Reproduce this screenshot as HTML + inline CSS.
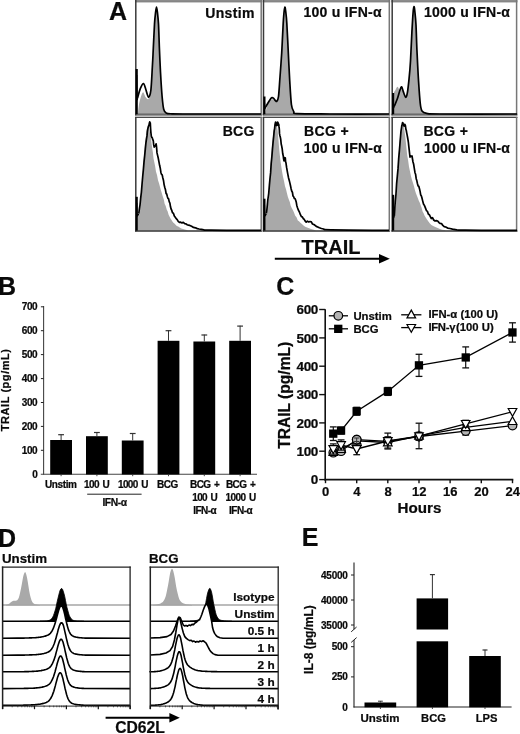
<!DOCTYPE html>
<html lang="en">
<head>
<meta charset="utf-8">
<title>Figure: TRAIL, CD62L and IL-8 responses</title>
<style>
html,body{margin:0;padding:0;background:#fff;}
body{width:520px;height:734px;overflow:hidden;}
svg{display:block;}
svg text{font-family:"Liberation Sans",Arial,Helvetica,sans-serif;font-weight:bold;fill:#0a0a0a;stroke:#0a0a0a;stroke-width:0.22px;}
</style>
</head>
<body>
<svg width="520" height="734" viewBox="0 0 520 734">
<rect x="0" y="0" width="520" height="734" fill="#fff"/>
<g id="panelA">
<text x="109" y="20" font-size="25">A</text>
<path d="M138 113 C138.2 111.2 138.7 105.4 139.5 102 C140.3 98.6 141.8 93.2 142.8 92.4 C143.8 91.6 144.6 95.9 145.5 97 C146.4 98.1 147.6 100 148.5 99 C149.4 98 150.2 96.7 150.9 91 C151.6 85.3 152.1 72 152.5 65 C152.9 58 153 55.7 153.3 49 C153.6 42.3 154.1 31 154.5 25 C154.9 19 155.3 15.8 155.6 13 C155.9 10.2 156.2 8 156.5 8 C156.8 8 157.1 10.2 157.4 13 C157.7 15.8 158.2 19 158.5 25 C158.8 31 159.1 41 159.4 49 C159.7 57 160.1 65 160.5 73 C160.9 81 161.6 90.8 162.1 97 C162.6 103.2 163 107.2 163.7 110 C164.4 112.8 165.8 112.9 166.2 113.5 L166.2 114.2 L138 114.2 Z" fill="#a9a9a9"/>
<rect x="135" y="0" width="127" height="1.7" fill="#8c8c8c"/>
<line x1="135" y1="1.9" x2="262" y2="1.9" stroke="#5a5a5a" stroke-width="0.8"/>
<rect x="135" y="114.7" width="127" height="1.9" fill="#999"/>
<line x1="135" y1="114.2" x2="262" y2="114.2" stroke="#3c3c3c" stroke-width="1.0"/>
<line x1="135.8" y1="0" x2="135.8" y2="115.2" stroke="#3a3a3a" stroke-width="1.5"/>
<line x1="261.2" y1="0" x2="261.2" y2="115.2" stroke="#777" stroke-width="1.5"/>
<path d="M137.5 98 C137.9 96.6 139.5 90.6 140.4 88.4 C141.3 86.2 142.8 83.4 143.6 83.6 C144.4 83.8 145.3 87.9 146 90 C146.7 92.1 147.8 97.3 148.5 97.3 C149.2 97.3 150.3 95 150.9 90 C151.5 85 152.1 70.6 152.5 64.3 C152.9 58 153 54.2 153.3 48.2 C153.6 42.2 154.2 29.5 154.5 24.1 C154.8 18.7 155.3 14.6 155.6 12 C155.9 9.4 156.2 7 156.5 7 C156.8 7 157.1 9.4 157.4 12 C157.7 14.6 158.2 18.7 158.5 24.1 C158.8 29.5 159.1 41 159.4 48.2 C159.7 55.4 160.1 65.1 160.5 72.3 C160.9 79.5 161.6 91 162.1 96.5 C162.6 102 163.1 106.8 163.7 109.3 C164.3 111.8 165 112.3 166.2 113 C167.4 113.7 166.3 113.6 172 113.8 C177.7 114 190.7 114 204 114 C217.3 114 252.4 114 261 114" fill="none" stroke="#000" stroke-width="1.7" stroke-linejoin="round"/>
<line x1="136.7" y1="69" x2="136.7" y2="114.2" stroke="#000" stroke-width="2.2"/>
<path d="M136.7 75 L137.1 100 L137.5 98" fill="none" stroke="#000" stroke-width="1.4"/>
<text x="254.8" y="18.4" font-size="14" text-anchor="end" letter-spacing="0.35">Unstim</text>
<path d="M265.6 113 C265.8 112.2 266.1 109.5 266.5 108 C266.9 106.5 267.3 105.3 268 104 C268.7 102.7 269.6 100.8 270.5 100 C271.4 99.2 272.6 99.2 273.7 99.5 C274.8 99.8 276.1 102.4 276.9 102 C277.7 101.6 278 101 278.5 97 C279 93 279.5 85.2 280 78 C280.5 70.8 281.2 62.3 281.7 54 C282.2 45.7 282.6 34.8 283 28 C283.4 21.2 283.7 16.8 284 13.5 C284.3 10.2 284.6 8.1 284.9 8 C285.2 7.9 285.5 10.3 285.8 13 C286.1 15.7 286.4 18 286.8 24 C287.2 30 287.6 39.5 288.1 49 C288.6 58.5 289.1 71.7 289.7 81 C290.2 90.3 290.7 99.8 291.4 105 C292.1 110.2 292.9 110.5 293.8 112 C294.7 113.5 296.5 113.5 297 113.8 L297 114.2 L265.6 114.2 Z" fill="#a9a9a9"/>
<rect x="262.7" y="0" width="127.4" height="1.7" fill="#8c8c8c"/>
<line x1="262.7" y1="1.9" x2="390.1" y2="1.9" stroke="#5a5a5a" stroke-width="0.8"/>
<rect x="262.7" y="114.7" width="127.4" height="1.9" fill="#999"/>
<line x1="262.7" y1="114.2" x2="390.1" y2="114.2" stroke="#3c3c3c" stroke-width="1.0"/>
<line x1="263.5" y1="0" x2="263.5" y2="115.2" stroke="#3a3a3a" stroke-width="1.5"/>
<line x1="389.3" y1="0" x2="389.3" y2="115.2" stroke="#777" stroke-width="1.5"/>
<path d="M265.6 107 C266 106.4 267.3 104.2 268 103 C268.7 101.8 269.9 99.7 270.5 98.9 C271.1 98.1 271.5 97.8 272 97.7 C272.5 97.6 273.2 98 273.7 98.4 C274.2 98.8 274.8 100.1 275.3 100.5 C275.8 100.9 276.4 101.9 276.9 101.3 C277.4 100.7 278 100.1 278.5 96.5 C279 92.9 279.5 83.5 280 77 C280.5 70.5 281.2 60.5 281.7 53 C282.1 45.5 282.7 33.4 283 27.3 C283.3 21.2 283.7 15.5 284 12.5 C284.3 9.5 284.6 7.1 284.9 7 C285.2 6.9 285.5 9.6 285.8 12 C286.1 14.4 286.5 17.6 286.8 23 C287.1 28.4 287.7 39.6 288.1 48.2 C288.5 56.8 289.2 72 289.7 80.4 C290.2 88.8 290.8 99.8 291.4 104.5 C292 109.2 293 110.3 293.8 111.7 C294.6 113.1 291.6 113.3 297 113.6 C302.4 113.9 316.2 113.9 330 114 C343.8 114.1 380.1 114 389 114" fill="none" stroke="#000" stroke-width="1.7" stroke-linejoin="round"/>
<line x1="264.4" y1="96.5" x2="264.4" y2="114.2" stroke="#000" stroke-width="2.2"/>
<path d="M264.4 102.5 L264.8 109 L265.6 107" fill="none" stroke="#000" stroke-width="1.4"/>
<text x="303.5" y="17.2" font-size="14" letter-spacing="0.25">100 u IFN-α</text>
<path d="M393.2 113 C393.3 110 393.2 98.8 393.6 95 C394 91.2 394.8 91.4 395.5 90 C396.2 88.6 396.9 86.8 397.6 86.8 C398.3 86.8 398.8 89.8 399.5 90 C400.2 90.2 401.1 87.7 401.7 88 C402.3 88.3 402.6 90.3 403.3 92 C404 93.7 405 97.7 405.7 98 C406.4 98.3 406.8 96.8 407.3 94 C407.8 91.2 408.4 86.3 408.9 81 C409.4 75.7 410 70 410.5 62 C411 54 411.5 41.1 411.9 33 C412.3 24.9 412.8 17.7 413.1 13.5 C413.5 9.3 413.7 7.7 414 7.6 C414.3 7.5 414.6 9.9 414.9 13 C415.2 16.1 415.6 19.5 416 26 C416.4 32.5 416.6 42.8 417 52 C417.4 61.2 418 72.3 418.5 81 C419 89.7 419.6 98.9 420.2 104 C420.8 109.1 420.9 109.9 422 111.5 C423.1 113.1 425.8 113.2 426.6 113.6 L426.6 114.2 L393.2 114.2 Z" fill="#a9a9a9"/>
<rect x="391.4" y="0" width="126" height="1.7" fill="#8c8c8c"/>
<line x1="391.4" y1="1.9" x2="517.4" y2="1.9" stroke="#5a5a5a" stroke-width="0.8"/>
<rect x="391.4" y="114.7" width="126" height="1.9" fill="#999"/>
<line x1="391.4" y1="114.2" x2="517.4" y2="114.2" stroke="#3c3c3c" stroke-width="1.0"/>
<line x1="392.2" y1="0" x2="392.2" y2="115.2" stroke="#3a3a3a" stroke-width="1.5"/>
<line x1="516.6" y1="0" x2="516.6" y2="115.2" stroke="#777" stroke-width="1.5"/>
<path d="M394.4 106 C394.9 104.8 396.8 100.4 397.6 98 C398.4 95.6 399.4 91.7 400 90 C400.6 88.3 401.2 86.6 401.7 86.8 C402.2 87 402.7 90 403.3 91.6 C403.9 93.2 405.1 97.1 405.7 97.3 C406.3 97.5 406.8 95.7 407.3 93.2 C407.8 90.7 408.4 85.2 408.9 80.4 C409.4 75.6 410.1 68.3 410.5 61 C410.9 53.7 411.5 39.3 411.9 32 C412.3 24.7 412.8 16.3 413.1 12.5 C413.4 8.7 413.7 6.7 414 6.6 C414.3 6.5 414.6 9.2 414.9 12 C415.2 14.8 415.7 19.1 416 25 C416.3 30.9 416.6 43.1 417 51.4 C417.4 59.7 418 72.7 418.5 80.4 C419 88.1 419.7 98.4 420.2 103 C420.7 107.6 421 109.5 422 111 C423 112.5 423.9 112.8 426.6 113.3 C429.3 113.8 426.4 113.9 440 114 C453.6 114.1 505.4 114 517 114" fill="none" stroke="#000" stroke-width="1.7" stroke-linejoin="round"/>
<line x1="393.1" y1="93" x2="393.1" y2="114.2" stroke="#000" stroke-width="2.2"/>
<path d="M393.1 99 L393.5 108 L394.4 106" fill="none" stroke="#000" stroke-width="1.4"/>
<text x="423.9" y="17.2" font-size="14" letter-spacing="0.25">1000 u IFN-α</text>
<path d="M137.4 230.6 L137.4 226.2 L137.5 220 L137.7 215 L138.2 214 L139 215.6 L139.8 212.4 L140.7 201.4 L141.8 186.8 L142.7 173.3 L143.4 163.4 L144 155.8 L144.6 148.8 L145.2 141.3 L145.9 136.4 L146.5 131 L147.1 127.7 L147.8 125.3 L148.4 126.3 L149 127.8 L149.7 131.5 L150.3 135.2 L151 138.6 L151.6 143.8 L152.3 148.7 L152.9 152.6 L153.5 158.2 L154.2 161.8 L155.1 166.1 L156 171.7 L157 175.1 L158 180.2 L159 183.3 L160 187.1 L160.9 190.2 L161.9 193.6 L162.8 196.4 L163.8 199.4 L164.7 203.9 L165.7 206 L166.7 209.5 L167.6 211.3 L168.6 214.7 L169.6 216.7 L170.5 218.4 L171.5 220.1 L172.4 221.4 L173.4 222.8 L174.4 223.4 L175.6 224.7 L176.8 225.9 L178.2 226.5 L179.7 227.6 L181.3 228.4 L183 229 L184.8 229.6 L186.7 230.1 L188 230.4 L188 230.6 L137.4 230.6 Z" fill="#a9a9a9"/>
<line x1="135" y1="117.5" x2="262" y2="117.5" stroke="#4a4a4a" stroke-width="1.1"/>
<line x1="135" y1="231.1" x2="262" y2="231.1" stroke="#333" stroke-width="1.5"/>
<line x1="135.8" y1="116.9" x2="135.8" y2="231.6" stroke="#3a3a3a" stroke-width="1.5"/>
<line x1="261.2" y1="116.9" x2="261.2" y2="231.6" stroke="#777" stroke-width="1.5"/>
<path d="M138.8 213.6 L139.3 209.5 L140 205.1 L140.7 197.8 L141.4 192.1 L142 184.5 L142.7 176.5 L143.3 170.3 L144 162.1 L144.6 156.3 L145.3 149.1 L145.9 143.2 L146.5 138.8 L147 135.9 L147.4 131.3 L147.8 128.9 L148.3 127 L148.9 125.3 L149.4 122.9 L149.7 121.9 L150 123.4 L150.3 123 L150.6 128.7 L150.9 132.6 L151.3 136.2 L151.8 137.4 L152.3 137.9 L152.8 139.7 L153.3 140.8 L153.7 144.9 L154.2 147.1 L154.8 146.2 L155.5 145.2 L156.1 143.8 L156.4 145.6 L156.7 148.8 L157 152.9 L157.6 155.4 L158.3 158.3 L159 162.2 L159.6 165.3 L160.3 168.4 L160.9 172.4 L161.5 174.3 L162.2 174.9 L162.8 177.7 L163.5 180.5 L164.1 184.6 L164.8 187.5 L165.4 189.4 L166.1 193.5 L166.7 194 L167.3 196.4 L168 198.5 L168.6 198.8 L169.2 201.7 L169.9 203.1 L170.5 206.8 L171.1 209 L171.8 210.4 L172.5 212.8 L173.4 213.3 L174.3 215.9 L175.3 217.2 L176.2 218.6 L177.2 219.6 L178.2 221.4 L179.4 222.4 L180.7 222.2 L182 222.9 L183.3 222.4 L184.7 223.6 L186 223.9 L187.2 224.8 L188.4 225.2 L189.8 225.4 L191.6 226.3 L193.5 227.4 L195.5 227.8 L197.3 228.6 L199.1 229 L201.3 229.4 L202.8 229.7 L204.6 230.1 L211 230.2 L226.5 230.3 L246.5 230.4 L261 230.4" fill="none" stroke="#000" stroke-width="1.7" stroke-linejoin="round"/>
<line x1="136.7" y1="196.8" x2="136.7" y2="230.6" stroke="#000" stroke-width="2.2"/>
<path d="M136.7 202.8 L137.1 216 L138.8 214" fill="none" stroke="#000" stroke-width="1.4"/>
<text x="254.8" y="136.1" font-size="14" text-anchor="end" letter-spacing="0.35">BCG</text>
<path d="M265.1 230.6 L265.1 226 L265.1 219.5 L265.4 215.7 L266 213 L266.8 212.3 L267.7 208.5 L268.7 196 L269.7 180.7 L270.6 165.6 L271.3 156.6 L271.9 147.7 L272.5 141.1 L273.1 135.6 L273.8 130.4 L274.4 127.2 L275.1 124.7 L275.7 122.8 L276.3 124.2 L276.8 125.3 L277.2 127.5 L277.7 131 L278.2 136.9 L278.7 142.7 L279.2 149.3 L279.8 154.9 L280.5 161 L281.2 166.1 L282.1 171.7 L283 176.8 L284 181.1 L285 186.3 L286 189.2 L287 193.4 L287.9 197 L288.9 199.8 L289.8 202 L290.7 205.7 L291.7 207.9 L292.7 209.8 L293.9 212.3 L295.2 215.7 L296.5 217.3 L297.8 220.4 L299 221.3 L300.4 222.7 L301.9 224 L303.5 225.5 L305.2 226.8 L307.1 227.5 L309.1 228.3 L311 229 L312.9 229.6 L314.7 230.1 L316 230.4 L316 230.6 L265.1 230.6 Z" fill="#a9a9a9"/>
<line x1="262.7" y1="117.5" x2="390.1" y2="117.5" stroke="#4a4a4a" stroke-width="1.1"/>
<line x1="262.7" y1="231.1" x2="390.1" y2="231.1" stroke="#333" stroke-width="1.5"/>
<line x1="263.5" y1="116.9" x2="263.5" y2="231.6" stroke="#3a3a3a" stroke-width="1.5"/>
<line x1="389.3" y1="116.9" x2="389.3" y2="231.6" stroke="#777" stroke-width="1.5"/>
<path d="M266.3 213.4 L266.9 209.6 L267.8 200 L268.7 193.5 L269.4 185.1 L270 178.5 L270.6 172.9 L271.2 163.4 L271.9 156.4 L272.5 148.6 L273.1 142 L273.7 136.2 L274.2 130.7 L274.6 128.6 L275 124.6 L275.3 123.3 L275.6 122 L275.8 122.4 L276 123 L276.3 125.1 L276.5 125.3 L276.8 125.5 L277.1 125 L277.3 125.1 L277.6 122 L277.9 123.1 L278.2 122.9 L278.5 124.2 L278.8 124.5 L279 126.7 L279.2 128 L279.4 130.4 L279.5 133.4 L279.8 135.2 L280.2 136.7 L280.7 139.2 L281.2 144 L281.7 146.1 L282.2 148.8 L282.7 153.5 L283.2 155.7 L283.6 158.8 L284 160.8 L284.4 159 L284.7 157.6 L285 158.1 L285.3 157.9 L285.6 161.8 L286 163.1 L286.6 167.4 L287.2 170.8 L287.9 174.7 L288.5 177.7 L289.2 180.3 L289.8 182.6 L290.4 185.3 L291.1 188.7 L291.7 191 L292.4 192.2 L293 196 L293.7 196.8 L294.3 198.5 L295 198.5 L295.6 200 L296.2 201.9 L296.8 205.4 L297.5 207.8 L298.4 210.2 L299.4 212 L300.4 214.7 L301.4 216.6 L302.3 216.8 L303.3 218.7 L304.2 219.3 L305.2 221.1 L306.2 222.2 L307.4 221.1 L308.7 222 L310 221.5 L311.3 221.9 L312.5 224 L313.8 224.5 L315 225.3 L316.3 226.4 L317.7 227 L319.4 227.8 L321.4 228.5 L323.5 229 L324 229.4 L324.7 229.7 L331 229.9 L348.7 230.1 L372.1 230.3 L389 230.4" fill="none" stroke="#000" stroke-width="1.7" stroke-linejoin="round"/>
<line x1="264.4" y1="198.7" x2="264.4" y2="230.6" stroke="#000" stroke-width="2.2"/>
<path d="M264.4 204.7 L264.8 216 L266.3 214" fill="none" stroke="#000" stroke-width="1.4"/>
<text x="304" y="136.3" font-size="14" letter-spacing="0.35">BCG +</text>
<text x="303.8" y="153.2" font-size="14" letter-spacing="0.25">100 u IFN-α</text>
<path d="M393.8 230.6 L393.8 227.3 L393.9 222.5 L394.1 216.4 L394.5 213 L395.1 208.5 L395.7 202.5 L396.3 192.9 L397 182.1 L397.6 171.7 L398.2 161.2 L398.9 151.5 L399.5 142.3 L400.2 135.5 L400.8 130.8 L401.5 126.5 L402.1 124.7 L402.8 124.8 L403.4 125.4 L404 127.6 L404.7 132.7 L405.3 137.1 L405.9 142.6 L406.5 148.6 L407.2 155.2 L408.1 160.3 L409 166.8 L410 171.6 L411 176.2 L412 180 L413 183 L414 186.2 L414.9 190 L415.9 193.3 L416.9 195.8 L417.8 198.1 L418.8 200.8 L419.8 202.7 L420.7 205.3 L421.7 208.1 L422.6 211.4 L423.5 213.1 L424.5 215.5 L425.7 217.6 L427 219.5 L428.4 221.6 L429.9 223.4 L431.4 225 L433.2 225.9 L435.3 227.1 L437.7 228.1 L440 229 L442.3 229.7 L444.5 230.1 L446 230.4 L446 230.6 L393.8 230.6 Z" fill="#a9a9a9"/>
<line x1="391.4" y1="117.5" x2="517.4" y2="117.5" stroke="#4a4a4a" stroke-width="1.1"/>
<line x1="391.4" y1="231.1" x2="517.4" y2="231.1" stroke="#333" stroke-width="1.5"/>
<line x1="392.2" y1="116.9" x2="392.2" y2="231.6" stroke="#3a3a3a" stroke-width="1.5"/>
<line x1="516.6" y1="116.9" x2="516.6" y2="231.6" stroke="#777" stroke-width="1.5"/>
<path d="M394.3 215.9 L394.7 209.8 L395.3 200.9 L396 193.8 L396.6 183.7 L397.3 176.4 L398 168.9 L398.7 158.4 L399.4 150.7 L400 143.3 L400.6 135.7 L401 131.2 L401.5 127.9 L401.9 124.9 L402.2 124.3 L402.6 122.5 L403 123.2 L403.4 124.2 L403.8 125.8 L404.2 126.1 L404.6 124.3 L405 124.6 L405.4 125.6 L405.9 129.3 L406.3 130.5 L406.7 132.8 L407.2 135.3 L407.6 137.5 L408 139.8 L408.4 142.5 L408.8 146.3 L409.2 149.8 L409.6 153.5 L410 157.1 L410.5 155.9 L411 156.4 L411.5 156.2 L412 155.9 L412.5 159 L413 162 L413.6 164 L414.3 168.3 L415 172.7 L415.6 174.3 L416.2 178.7 L416.8 180.6 L417.5 183.7 L418.1 186 L418.8 186.3 L419.4 188.4 L420.1 191.4 L420.7 194.9 L421.3 195.7 L421.9 197.7 L422.6 200.6 L423.5 204 L424.5 205.6 L425.5 208.1 L426.5 210.7 L427.4 211.4 L428.4 214.2 L429.3 214.6 L430.3 216.7 L431.3 218.5 L432.5 217.7 L433.7 220 L435 221 L436.3 220.6 L437.7 221 L439 222.6 L440.2 223.5 L441.5 223.6 L442.8 225.4 L444.2 226.6 L445.7 227 L447.6 228.1 L449.9 228.5 L452.5 229.1 L455.3 229.6 L456.8 229.9 L458.6 230.1 L465 230.2 L481.1 230.3 L502 230.4 L517 230.4" fill="none" stroke="#000" stroke-width="1.7" stroke-linejoin="round"/>
<line x1="393.1" y1="194.8" x2="393.1" y2="230.6" stroke="#000" stroke-width="2.2"/>
<path d="M393.1 200.8 L393.5 218 L394.3 216" fill="none" stroke="#000" stroke-width="1.4"/>
<text x="423.4" y="136.4" font-size="14" letter-spacing="0.35">BCG +</text>
<text x="423.9" y="153.4" font-size="14" letter-spacing="0.25">1000 u IFN-α</text>
<text x="331" y="253.8" font-size="20" text-anchor="middle">TRAIL</text>
<line x1="274.8" y1="258.7" x2="381" y2="258.7" stroke="#000" stroke-width="2"/>
<path d="M379 254 L389.8 258.7 L379 263.4Z" fill="#000"/>
</g>
<g id="panelB">
<text x="-1.9" y="295.2" font-size="25">B</text>
<line x1="43.6" y1="306" x2="43.6" y2="474.7" stroke="#444" stroke-width="1.1"/>
<line x1="40.8" y1="474.2" x2="257" y2="474.2" stroke="#444" stroke-width="1.1"/>
<text x="37.3" y="477.6" font-size="10" text-anchor="end" letter-spacing="-0.4">0</text>
<line x1="40.9" y1="450.3" x2="43.6" y2="450.3" stroke="#222" stroke-width="1.0"/>
<text x="37.3" y="453.7" font-size="10" text-anchor="end" letter-spacing="-0.4">100</text>
<line x1="40.9" y1="426.4" x2="43.6" y2="426.4" stroke="#222" stroke-width="1.0"/>
<text x="37.3" y="429.8" font-size="10" text-anchor="end" letter-spacing="-0.4">200</text>
<line x1="40.9" y1="402.5" x2="43.6" y2="402.5" stroke="#222" stroke-width="1.0"/>
<text x="37.3" y="405.9" font-size="10" text-anchor="end" letter-spacing="-0.4">300</text>
<line x1="40.9" y1="378.6" x2="43.6" y2="378.6" stroke="#222" stroke-width="1.0"/>
<text x="37.3" y="382" font-size="10" text-anchor="end" letter-spacing="-0.4">400</text>
<line x1="40.9" y1="354.6" x2="43.6" y2="354.6" stroke="#222" stroke-width="1.0"/>
<text x="37.3" y="358" font-size="10" text-anchor="end" letter-spacing="-0.4">500</text>
<line x1="40.9" y1="330.7" x2="43.6" y2="330.7" stroke="#222" stroke-width="1.0"/>
<text x="37.3" y="334.1" font-size="10" text-anchor="end" letter-spacing="-0.4">600</text>
<line x1="40.9" y1="306.8" x2="43.6" y2="306.8" stroke="#222" stroke-width="1.0"/>
<text x="37.3" y="310.2" font-size="10" text-anchor="end" letter-spacing="-0.4">700</text>
<text transform="translate(9.4 389.8) rotate(-90)" font-size="11" text-anchor="middle" letter-spacing="0.55">TRAIL (pg/mL)</text>
<rect x="50.2" y="440" width="21.8" height="34.5" fill="#000"/>
<line x1="61.1" y1="440" x2="61.1" y2="434.3" stroke="#333" stroke-width="1.0"/>
<line x1="58.2" y1="434.7" x2="64" y2="434.7" stroke="#333" stroke-width="1.2"/>
<line x1="61.1" y1="474.2" x2="61.1" y2="476.2" stroke="#333" stroke-width="0.9"/>
<rect x="86" y="436.2" width="21.8" height="38.3" fill="#000"/>
<line x1="96.9" y1="436.2" x2="96.9" y2="432.1" stroke="#333" stroke-width="1.0"/>
<line x1="94" y1="432.5" x2="99.8" y2="432.5" stroke="#333" stroke-width="1.2"/>
<line x1="96.9" y1="474.2" x2="96.9" y2="476.2" stroke="#333" stroke-width="0.9"/>
<rect x="121.8" y="440.5" width="21.8" height="34" fill="#000"/>
<line x1="132.7" y1="440.5" x2="132.7" y2="433.1" stroke="#333" stroke-width="1.0"/>
<line x1="129.8" y1="433.5" x2="135.6" y2="433.5" stroke="#333" stroke-width="1.2"/>
<line x1="132.7" y1="474.2" x2="132.7" y2="476.2" stroke="#333" stroke-width="0.9"/>
<rect x="157.6" y="340.8" width="21.8" height="133.7" fill="#000"/>
<line x1="168.5" y1="340.8" x2="168.5" y2="330.3" stroke="#333" stroke-width="1.0"/>
<line x1="165.6" y1="330.7" x2="171.4" y2="330.7" stroke="#333" stroke-width="1.2"/>
<line x1="168.5" y1="474.2" x2="168.5" y2="476.2" stroke="#333" stroke-width="0.9"/>
<rect x="193.4" y="341.5" width="21.8" height="133" fill="#000"/>
<line x1="204.3" y1="341.5" x2="204.3" y2="334.6" stroke="#333" stroke-width="1.0"/>
<line x1="201.4" y1="335" x2="207.2" y2="335" stroke="#333" stroke-width="1.2"/>
<line x1="204.3" y1="474.2" x2="204.3" y2="476.2" stroke="#333" stroke-width="0.9"/>
<rect x="229.2" y="340.8" width="21.8" height="133.7" fill="#000"/>
<line x1="240.1" y1="340.8" x2="240.1" y2="325.7" stroke="#333" stroke-width="1.0"/>
<line x1="237.2" y1="326.1" x2="243" y2="326.1" stroke="#333" stroke-width="1.2"/>
<line x1="240.1" y1="474.2" x2="240.1" y2="476.2" stroke="#333" stroke-width="0.9"/>
<text x="60.8" y="487.7" font-size="10" text-anchor="middle" letter-spacing="-0.4">Unstim</text>
<text x="96.6" y="487.7" font-size="10" text-anchor="middle" letter-spacing="-0.55" word-spacing="1.3">100 U</text>
<text x="132.9" y="487.9" font-size="10" text-anchor="middle" letter-spacing="-0.6" word-spacing="1.3">1000 U</text>
<text x="167.4" y="488.3" font-size="10" text-anchor="middle" letter-spacing="-0.4">BCG</text>
<text x="204.7" y="488.3" font-size="10" text-anchor="middle" letter-spacing="-0.55" word-spacing="1.3">BCG +</text>
<text x="204.7" y="500.9" font-size="10" text-anchor="middle" letter-spacing="-0.6" word-spacing="1.3">100 U</text>
<text x="204.7" y="513.5" font-size="10" text-anchor="middle" letter-spacing="-0.5">IFN-α</text>
<text x="240.6" y="488.3" font-size="10" text-anchor="middle" letter-spacing="-0.55" word-spacing="1.3">BCG +</text>
<text x="240.6" y="500.9" font-size="10" text-anchor="middle" letter-spacing="-0.6" word-spacing="1.3">1000 U</text>
<text x="240.6" y="513.5" font-size="10" text-anchor="middle" letter-spacing="-0.5">IFN-α</text>
<line x1="87.2" y1="494.2" x2="141.6" y2="494.2" stroke="#222" stroke-width="1.0"/>
<text x="114.6" y="505.9" font-size="10.3" text-anchor="middle" letter-spacing="-0.4">IFN-α</text>
</g>
<g id="panelC">
<text x="276.2" y="295.2" font-size="25">C</text>
<line x1="325.2" y1="309.3" x2="325.2" y2="480.4" stroke="#111" stroke-width="1.6"/>
<line x1="324.4" y1="479.6" x2="513.3" y2="479.6" stroke="#111" stroke-width="1.6"/>
<line x1="319.2" y1="479.6" x2="325.2" y2="479.6" stroke="#111" stroke-width="1.4"/>
<text x="317.8" y="484.2" font-size="13.5" text-anchor="end" letter-spacing="-0.45">0</text>
<line x1="319.2" y1="451.2" x2="325.2" y2="451.2" stroke="#111" stroke-width="1.4"/>
<text x="317.8" y="455.9" font-size="13.5" text-anchor="end" letter-spacing="-0.45">100</text>
<line x1="319.2" y1="422.9" x2="325.2" y2="422.9" stroke="#111" stroke-width="1.4"/>
<text x="317.8" y="427.5" font-size="13.5" text-anchor="end" letter-spacing="-0.45">200</text>
<line x1="319.2" y1="394.6" x2="325.2" y2="394.6" stroke="#111" stroke-width="1.4"/>
<text x="317.8" y="399.2" font-size="13.5" text-anchor="end" letter-spacing="-0.45">300</text>
<line x1="319.2" y1="366.2" x2="325.2" y2="366.2" stroke="#111" stroke-width="1.4"/>
<text x="317.8" y="370.8" font-size="13.5" text-anchor="end" letter-spacing="-0.45">400</text>
<line x1="319.2" y1="337.9" x2="325.2" y2="337.9" stroke="#111" stroke-width="1.4"/>
<text x="317.8" y="342.5" font-size="13.5" text-anchor="end" letter-spacing="-0.45">500</text>
<line x1="319.2" y1="309.5" x2="325.2" y2="309.5" stroke="#111" stroke-width="1.4"/>
<text x="317.8" y="314.1" font-size="13.5" text-anchor="end" letter-spacing="-0.45">600</text>
<line x1="325.5" y1="479.6" x2="325.5" y2="483.2" stroke="#111" stroke-width="1.4"/>
<text x="325.5" y="495.6" font-size="13" text-anchor="middle">0</text>
<line x1="356.7" y1="479.6" x2="356.7" y2="483.2" stroke="#111" stroke-width="1.4"/>
<text x="356.9" y="495.6" font-size="13" text-anchor="middle">4</text>
<line x1="387.8" y1="479.6" x2="387.8" y2="483.2" stroke="#111" stroke-width="1.4"/>
<text x="388" y="495.6" font-size="13" text-anchor="middle">8</text>
<line x1="419" y1="479.6" x2="419" y2="483.2" stroke="#111" stroke-width="1.4"/>
<text x="419.2" y="495.6" font-size="13" text-anchor="middle">12</text>
<line x1="450.1" y1="479.6" x2="450.1" y2="483.2" stroke="#111" stroke-width="1.4"/>
<text x="450.3" y="495.6" font-size="13" text-anchor="middle">16</text>
<line x1="481.3" y1="479.6" x2="481.3" y2="483.2" stroke="#111" stroke-width="1.4"/>
<text x="481.5" y="495.6" font-size="13" text-anchor="middle">20</text>
<line x1="512.5" y1="479.6" x2="512.5" y2="483.2" stroke="#111" stroke-width="1.4"/>
<text x="512.7" y="495.6" font-size="13" text-anchor="middle">24</text>
<text x="419.4" y="512.6" font-size="15.2" text-anchor="middle">Hours</text>
<text transform="translate(289.5 395.3) rotate(-90)" font-size="15.6" text-anchor="middle">TRAIL (pg/mL)</text>
<path d="M333.3 452.7 L341.1 451.2 L356.7 439.6 L387.8 441.3 L419 436.5 L465.7 431.1 L512.5 425.5" fill="none" stroke="#000" stroke-width="1.3"/>
<line x1="333.3" y1="450.4" x2="333.3" y2="454.9" stroke="#111" stroke-width="1.2"/>
<line x1="329.9" y1="450.4" x2="336.7" y2="450.4" stroke="#111" stroke-width="1.3"/>
<line x1="329.9" y1="454.9" x2="336.7" y2="454.9" stroke="#111" stroke-width="1.3"/>
<line x1="341.1" y1="449" x2="341.1" y2="453.5" stroke="#111" stroke-width="1.2"/>
<line x1="337.7" y1="449" x2="344.5" y2="449" stroke="#111" stroke-width="1.3"/>
<line x1="337.7" y1="453.5" x2="344.5" y2="453.5" stroke="#111" stroke-width="1.3"/>
<line x1="356.7" y1="436.8" x2="356.7" y2="442.5" stroke="#111" stroke-width="1.2"/>
<line x1="353.3" y1="436.8" x2="360.1" y2="436.8" stroke="#111" stroke-width="1.3"/>
<line x1="353.3" y1="442.5" x2="360.1" y2="442.5" stroke="#111" stroke-width="1.3"/>
<line x1="387.8" y1="439.1" x2="387.8" y2="443.6" stroke="#111" stroke-width="1.2"/>
<line x1="384.4" y1="439.1" x2="391.2" y2="439.1" stroke="#111" stroke-width="1.3"/>
<line x1="384.4" y1="443.6" x2="391.2" y2="443.6" stroke="#111" stroke-width="1.3"/>
<line x1="419" y1="433.1" x2="419" y2="439.9" stroke="#111" stroke-width="1.2"/>
<line x1="415.6" y1="433.1" x2="422.4" y2="433.1" stroke="#111" stroke-width="1.3"/>
<line x1="415.6" y1="439.9" x2="422.4" y2="439.9" stroke="#111" stroke-width="1.3"/>
<line x1="465.7" y1="427.2" x2="465.7" y2="435.1" stroke="#111" stroke-width="1.2"/>
<line x1="462.3" y1="427.2" x2="469.1" y2="427.2" stroke="#111" stroke-width="1.3"/>
<line x1="462.3" y1="435.1" x2="469.1" y2="435.1" stroke="#111" stroke-width="1.3"/>
<circle cx="333.3" cy="452.7" r="4.3" fill="#b4b4b4" stroke="#000" stroke-width="1.2"/>
<circle cx="341.1" cy="451.2" r="4.3" fill="#b4b4b4" stroke="#000" stroke-width="1.2"/>
<circle cx="356.7" cy="439.6" r="4.3" fill="#b4b4b4" stroke="#000" stroke-width="1.2"/>
<circle cx="387.8" cy="441.3" r="4.3" fill="#b4b4b4" stroke="#000" stroke-width="1.2"/>
<circle cx="419" cy="436.5" r="4.3" fill="#b4b4b4" stroke="#000" stroke-width="1.2"/>
<circle cx="465.7" cy="431.1" r="4.3" fill="#b4b4b4" stroke="#000" stroke-width="1.2"/>
<circle cx="512.5" cy="425.5" r="4.3" fill="#b4b4b4" stroke="#000" stroke-width="1.2"/>
<path d="M333.3 452.1 L341.1 449 L356.7 440.8 L387.8 442.5 L419 435.9 L465.7 427.4 L512.5 421.2" fill="none" stroke="#000" stroke-width="1.3"/>
<line x1="333.3" y1="449.8" x2="333.3" y2="454.4" stroke="#111" stroke-width="1.2"/>
<line x1="329.9" y1="449.8" x2="336.7" y2="449.8" stroke="#111" stroke-width="1.3"/>
<line x1="329.9" y1="454.4" x2="336.7" y2="454.4" stroke="#111" stroke-width="1.3"/>
<line x1="341.1" y1="446.7" x2="341.1" y2="451.2" stroke="#111" stroke-width="1.2"/>
<line x1="337.7" y1="446.7" x2="344.5" y2="446.7" stroke="#111" stroke-width="1.3"/>
<line x1="337.7" y1="451.2" x2="344.5" y2="451.2" stroke="#111" stroke-width="1.3"/>
<line x1="356.7" y1="438.5" x2="356.7" y2="443" stroke="#111" stroke-width="1.2"/>
<line x1="353.3" y1="438.5" x2="360.1" y2="438.5" stroke="#111" stroke-width="1.3"/>
<line x1="353.3" y1="443" x2="360.1" y2="443" stroke="#111" stroke-width="1.3"/>
<line x1="387.8" y1="436.8" x2="387.8" y2="448.1" stroke="#111" stroke-width="1.2"/>
<line x1="384.4" y1="436.8" x2="391.2" y2="436.8" stroke="#111" stroke-width="1.3"/>
<line x1="384.4" y1="448.1" x2="391.2" y2="448.1" stroke="#111" stroke-width="1.3"/>
<line x1="419" y1="423.2" x2="419" y2="448.7" stroke="#111" stroke-width="1.2"/>
<line x1="415.6" y1="423.2" x2="422.4" y2="423.2" stroke="#111" stroke-width="1.3"/>
<line x1="415.6" y1="448.7" x2="422.4" y2="448.7" stroke="#111" stroke-width="1.3"/>
<line x1="465.7" y1="425.2" x2="465.7" y2="429.7" stroke="#111" stroke-width="1.2"/>
<line x1="462.3" y1="425.2" x2="469.1" y2="425.2" stroke="#111" stroke-width="1.3"/>
<line x1="462.3" y1="429.7" x2="469.1" y2="429.7" stroke="#111" stroke-width="1.3"/>
<path d="M329 455.4 L337.6 455.4 L333.3 447.6Z" fill="#fff" stroke="#000" stroke-width="1.2"/>
<path d="M336.8 452.3 L345.4 452.3 L341.1 444.5Z" fill="#fff" stroke="#000" stroke-width="1.2"/>
<path d="M352.4 444.1 L361 444.1 L356.7 436.3Z" fill="#fff" stroke="#000" stroke-width="1.2"/>
<path d="M383.5 445.8 L392.1 445.8 L387.8 438Z" fill="#fff" stroke="#000" stroke-width="1.2"/>
<path d="M414.7 439.2 L423.3 439.2 L419 431.4Z" fill="#fff" stroke="#000" stroke-width="1.2"/>
<path d="M461.4 430.7 L470 430.7 L465.7 422.9Z" fill="#fff" stroke="#000" stroke-width="1.2"/>
<path d="M508.2 424.5 L516.8 424.5 L512.5 416.7Z" fill="#fff" stroke="#000" stroke-width="1.2"/>
<path d="M333.3 449 L341.1 445 L356.7 449 L387.8 441 L419 436.2 L465.7 423.8 L512.5 411.8" fill="none" stroke="#000" stroke-width="1.3"/>
<line x1="333.3" y1="443.9" x2="333.3" y2="454.1" stroke="#111" stroke-width="1.2"/>
<line x1="329.9" y1="443.9" x2="336.7" y2="443.9" stroke="#111" stroke-width="1.3"/>
<line x1="329.9" y1="454.1" x2="336.7" y2="454.1" stroke="#111" stroke-width="1.3"/>
<line x1="341.1" y1="439.9" x2="341.1" y2="450.1" stroke="#111" stroke-width="1.2"/>
<line x1="337.7" y1="439.9" x2="344.5" y2="439.9" stroke="#111" stroke-width="1.3"/>
<line x1="337.7" y1="450.1" x2="344.5" y2="450.1" stroke="#111" stroke-width="1.3"/>
<line x1="356.7" y1="443.3" x2="356.7" y2="454.7" stroke="#111" stroke-width="1.2"/>
<line x1="353.3" y1="443.3" x2="360.1" y2="443.3" stroke="#111" stroke-width="1.3"/>
<line x1="353.3" y1="454.7" x2="360.1" y2="454.7" stroke="#111" stroke-width="1.3"/>
<line x1="387.8" y1="433.1" x2="387.8" y2="449" stroke="#111" stroke-width="1.2"/>
<line x1="384.4" y1="433.1" x2="391.2" y2="433.1" stroke="#111" stroke-width="1.3"/>
<line x1="384.4" y1="449" x2="391.2" y2="449" stroke="#111" stroke-width="1.3"/>
<line x1="419" y1="432.3" x2="419" y2="440.2" stroke="#111" stroke-width="1.2"/>
<line x1="415.6" y1="432.3" x2="422.4" y2="432.3" stroke="#111" stroke-width="1.3"/>
<line x1="415.6" y1="440.2" x2="422.4" y2="440.2" stroke="#111" stroke-width="1.3"/>
<line x1="465.7" y1="420.3" x2="465.7" y2="427.2" stroke="#111" stroke-width="1.2"/>
<line x1="462.3" y1="420.3" x2="469.1" y2="420.3" stroke="#111" stroke-width="1.3"/>
<line x1="462.3" y1="427.2" x2="469.1" y2="427.2" stroke="#111" stroke-width="1.3"/>
<path d="M329 445.7 L337.6 445.7 L333.3 453.5Z" fill="#fff" stroke="#000" stroke-width="1.2"/>
<path d="M336.8 441.7 L345.4 441.7 L341.1 449.5Z" fill="#fff" stroke="#000" stroke-width="1.2"/>
<path d="M352.4 445.7 L361 445.7 L356.7 453.5Z" fill="#fff" stroke="#000" stroke-width="1.2"/>
<path d="M383.5 437.7 L392.1 437.7 L387.8 445.5Z" fill="#fff" stroke="#000" stroke-width="1.2"/>
<path d="M414.7 432.9 L423.3 432.9 L419 440.7Z" fill="#fff" stroke="#000" stroke-width="1.2"/>
<path d="M461.4 420.5 L470 420.5 L465.7 428.3Z" fill="#fff" stroke="#000" stroke-width="1.2"/>
<path d="M508.2 408.5 L516.8 408.5 L512.5 416.3Z" fill="#fff" stroke="#000" stroke-width="1.2"/>
<path d="M333.3 433.7 L341.1 430.6 L356.7 411.3 L387.8 391.4 L419 365.3 L465.7 357.4 L512.5 332.5" fill="none" stroke="#000" stroke-width="1.3"/>
<line x1="333.3" y1="426.9" x2="333.3" y2="440.5" stroke="#111" stroke-width="1.2"/>
<line x1="329.9" y1="426.9" x2="336.7" y2="426.9" stroke="#111" stroke-width="1.3"/>
<line x1="329.9" y1="440.5" x2="336.7" y2="440.5" stroke="#111" stroke-width="1.3"/>
<line x1="341.1" y1="427.2" x2="341.1" y2="434" stroke="#111" stroke-width="1.2"/>
<line x1="337.7" y1="427.2" x2="344.5" y2="427.2" stroke="#111" stroke-width="1.3"/>
<line x1="337.7" y1="434" x2="344.5" y2="434" stroke="#111" stroke-width="1.3"/>
<line x1="356.7" y1="407.3" x2="356.7" y2="415.2" stroke="#111" stroke-width="1.2"/>
<line x1="353.3" y1="407.3" x2="360.1" y2="407.3" stroke="#111" stroke-width="1.3"/>
<line x1="353.3" y1="415.2" x2="360.1" y2="415.2" stroke="#111" stroke-width="1.3"/>
<line x1="387.8" y1="387.5" x2="387.8" y2="395.4" stroke="#111" stroke-width="1.2"/>
<line x1="384.4" y1="387.5" x2="391.2" y2="387.5" stroke="#111" stroke-width="1.3"/>
<line x1="384.4" y1="395.4" x2="391.2" y2="395.4" stroke="#111" stroke-width="1.3"/>
<line x1="419" y1="354.3" x2="419" y2="376.4" stroke="#111" stroke-width="1.2"/>
<line x1="415.6" y1="354.3" x2="422.4" y2="354.3" stroke="#111" stroke-width="1.3"/>
<line x1="415.6" y1="376.4" x2="422.4" y2="376.4" stroke="#111" stroke-width="1.3"/>
<line x1="465.7" y1="346.9" x2="465.7" y2="367.9" stroke="#111" stroke-width="1.2"/>
<line x1="462.3" y1="346.9" x2="469.1" y2="346.9" stroke="#111" stroke-width="1.3"/>
<line x1="462.3" y1="367.9" x2="469.1" y2="367.9" stroke="#111" stroke-width="1.3"/>
<line x1="512.5" y1="322.8" x2="512.5" y2="342.1" stroke="#111" stroke-width="1.2"/>
<line x1="509.1" y1="322.8" x2="515.9" y2="322.8" stroke="#111" stroke-width="1.3"/>
<line x1="509.1" y1="342.1" x2="515.9" y2="342.1" stroke="#111" stroke-width="1.3"/>
<rect x="329.1" y="429.5" width="8.3" height="8.3" fill="#000"/>
<rect x="336.9" y="426.4" width="8.3" height="8.3" fill="#000"/>
<rect x="352.5" y="407.1" width="8.3" height="8.3" fill="#000"/>
<rect x="383.7" y="387.3" width="8.3" height="8.3" fill="#000"/>
<rect x="414.8" y="361.2" width="8.3" height="8.3" fill="#000"/>
<rect x="461.6" y="353.3" width="8.3" height="8.3" fill="#000"/>
<rect x="508.3" y="328.3" width="8.3" height="8.3" fill="#000"/>
<circle cx="356.7" cy="439.6" r="4.3" fill="#b4b4b4" stroke="#000" stroke-width="1.2"/>
<line x1="354.1" y1="438" x2="359.3" y2="438" stroke="#333" stroke-width="1.0"/>
<line x1="354.1" y1="441.5" x2="359.3" y2="441.5" stroke="#333" stroke-width="1.0"/>
<line x1="356.7" y1="438" x2="356.7" y2="443.9" stroke="#333" stroke-width="1.0"/>
<path d="M352.4 445.7 L361 445.7 L356.7 453.5Z" fill="#fff" stroke="#000" stroke-width="1.2"/>
<line x1="328.8" y1="315.8" x2="348" y2="315.8" stroke="#000" stroke-width="1.3"/>
<circle cx="338.3" cy="315.8" r="4.3" fill="#b4b4b4" stroke="#000" stroke-width="1.2"/>
<text x="353.4" y="320" font-size="11.3">Unstim</text>
<line x1="328.8" y1="328.8" x2="348" y2="328.8" stroke="#000" stroke-width="1.3"/>
<rect x="334.1" y="324.7" width="8.3" height="8.3" fill="#000"/>
<text x="353.4" y="332.9" font-size="11.3">BCG</text>
<line x1="401.2" y1="314.8" x2="421.4" y2="314.8" stroke="#000" stroke-width="1.3"/>
<path d="M407 317.9 L415.6 317.9 L411.3 310.1Z" fill="#fff" stroke="#000" stroke-width="1.2"/>
<text x="428.4" y="318.4" font-size="11.3">IFN-α (100 U)</text>
<line x1="401.2" y1="327.6" x2="421.4" y2="327.6" stroke="#000" stroke-width="1.3"/>
<path d="M407 324.5 L415.6 324.5 L411.3 332.3Z" fill="#fff" stroke="#000" stroke-width="1.2"/>
<text x="428.4" y="331.4" font-size="11.3"><tspan letter-spacing="-0.3">IFN-γ </tspan><tspan x="456">(100 U)</tspan></text>
</g>
<g id="panelD">
<text x="-2" y="546.5" font-size="25">D</text>
<text x="2" y="562.7" font-size="13.3">Unstim</text>
<text x="149" y="562.5" font-size="13.3">BCG</text>
<path d="M6 605.4 L6 604.8 L6.8 604.7 L7.5 604.5 L8.2 604.2 L9 603.7 L9.8 603.2 L10.5 602.6 L11.2 602 L12 601.5 L12.8 601.1 L13.5 600.8 L14.2 600.7 L15 600.7 L15.8 600.7 L16.5 600.6 L17.2 600.2 L18 599.2 L18.8 597.7 L19.5 595.3 L20.2 592.2 L21 588.5 L21.8 584.3 L22.5 580.2 L23.2 576.5 L24 573.7 L24.8 572.2 L25.5 572.3 L26.2 574.2 L27 577.6 L27.8 582 L28.5 586.6 L29.2 591.1 L30 595 L30.8 598 L31.5 600.3 L32.2 601.8 L33 602.9 L33.8 603.6 L34.5 604 L35.2 604.3 L36 604.5 L36.8 604.6 L37.5 604.7 L38.2 604.8 L39 604.9 L39.8 604.9 L40 605.4Z" fill="#a9a9a9"/>
<line x1="2.6" y1="605" x2="130.1" y2="605" stroke="#a6a6a6" stroke-width="1.3"/>
<path d="M40 621.3 L40 621.2 L40.8 621.2 L41.5 621.2 L42.2 621.2 L43 621.2 L43.8 621.1 L44.5 621.1 L45.2 621 L46 621 L46.8 620.9 L47.5 620.8 L48.2 620.6 L49 620.4 L49.8 620.1 L50.5 619.7 L51.2 619 L52 618.2 L52.8 617 L53.5 615.4 L54.2 613.4 L55 611 L55.8 608.2 L56.5 605 L57.2 601.6 L58 598.2 L58.8 595 L59.5 592.2 L60.2 590.1 L61 588.8 L61.8 588.5 L62.5 589.3 L63.2 591.1 L64 593.7 L64.8 596.9 L65.5 600.5 L66.2 604.1 L67 607.5 L67.8 610.5 L68.5 613.1 L69.2 615.3 L70 616.9 L70.8 618.2 L71.5 619.1 L72.2 619.7 L73 620.2 L73.8 620.5 L74.5 620.7 L75.2 620.8 L76 620.9 L76.8 621 L77.5 621.1 L78.2 621.1 L79 621.1 L79.8 621.2 L80.5 621.2 L81.2 621.2 L82 621.2 L82.8 621.3 L83.5 621.3 L84 621.3Z" fill="#000" stroke="#000" stroke-width="0.8"/>
<line x1="2.6" y1="621.3" x2="130.1" y2="621.3" stroke="#000" stroke-width="1.6"/>
<path d="M2.6 638.2 L17.4 638.1 L18.1 638.1 L18.9 638.1 L19.6 638.1 L20.4 638.1 L21.1 638.1 L21.9 638.1 L22.6 638.1 L23.4 638.1 L24.1 638.1 L24.9 638 L25.6 638 L26.4 638 L27.1 638 L27.9 638 L28.6 638 L29.4 637.9 L30.1 637.9 L30.9 637.9 L31.6 637.9 L32.4 637.8 L33.1 637.8 L33.9 637.8 L34.6 637.7 L35.4 637.7 L36.1 637.6 L36.9 637.5 L37.6 637.5 L38.4 637.4 L39.1 637.3 L39.9 637.2 L40.6 637.1 L41.4 637 L42.1 636.8 L42.9 636.7 L43.6 636.5 L44.4 636.3 L45.1 636.1 L45.9 635.9 L46.6 635.6 L47.4 635.3 L48.1 635 L48.9 634.5 L49.6 634 L50.4 633.3 L51.1 632.3 L51.9 631.2 L52.6 629.8 L53.4 628.2 L54.1 626.3 L54.9 624.1 L55.6 621.6 L56.4 618.8 L57.1 616 L57.9 613.1 L58.6 610.5 L59.4 608.3 L60.1 606.6 L60.9 605.7 L61.6 605.7 L62.4 606.6 L63.1 608.4 L63.9 611.1 L64.7 614.3 L65.4 617.7 L66.2 621.1 L66.9 624.3 L67.7 627.2 L68.4 629.6 L69.2 631.5 L69.9 633 L70.7 634.2 L71.4 635 L72.2 635.6 L72.9 636.1 L73.7 636.4 L74.4 636.7 L75.2 636.9 L75.9 637.1 L76.7 637.3 L77.4 637.4 L78.2 637.5 L78.9 637.6 L79.7 637.7 L80.4 637.8 L81.2 637.8 L81.9 637.9 L82.7 638 L83.4 638 L84.2 638 L84.9 638.1 L85.7 638.1 L86.4 638.1 L87.2 638.1 L130.1 638.2Z" fill="#fff"/>
<path d="M2.6 638.2 L17.4 638.1 L18.1 638.1 L18.9 638.1 L19.6 638.1 L20.4 638.1 L21.1 638.1 L21.9 638.1 L22.6 638.1 L23.4 638.1 L24.1 638.1 L24.9 638 L25.6 638 L26.4 638 L27.1 638 L27.9 638 L28.6 638 L29.4 637.9 L30.1 637.9 L30.9 637.9 L31.6 637.9 L32.4 637.8 L33.1 637.8 L33.9 637.8 L34.6 637.7 L35.4 637.7 L36.1 637.6 L36.9 637.5 L37.6 637.5 L38.4 637.4 L39.1 637.3 L39.9 637.2 L40.6 637.1 L41.4 637 L42.1 636.8 L42.9 636.7 L43.6 636.5 L44.4 636.3 L45.1 636.1 L45.9 635.9 L46.6 635.6 L47.4 635.3 L48.1 635 L48.9 634.5 L49.6 634 L50.4 633.3 L51.1 632.3 L51.9 631.2 L52.6 629.8 L53.4 628.2 L54.1 626.3 L54.9 624.1 L55.6 621.6 L56.4 618.8 L57.1 616 L57.9 613.1 L58.6 610.5 L59.4 608.3 L60.1 606.6 L60.9 605.7 L61.6 605.7 L62.4 606.6 L63.1 608.4 L63.9 611.1 L64.7 614.3 L65.4 617.7 L66.2 621.1 L66.9 624.3 L67.7 627.2 L68.4 629.6 L69.2 631.5 L69.9 633 L70.7 634.2 L71.4 635 L72.2 635.6 L72.9 636.1 L73.7 636.4 L74.4 636.7 L75.2 636.9 L75.9 637.1 L76.7 637.3 L77.4 637.4 L78.2 637.5 L78.9 637.6 L79.7 637.7 L80.4 637.8 L81.2 637.8 L81.9 637.9 L82.7 638 L83.4 638 L84.2 638 L84.9 638.1 L85.7 638.1 L86.4 638.1 L87.2 638.1 L130.1 638.2" fill="none" stroke="#000" stroke-width="1.6" stroke-linejoin="round"/>
<path d="M2.6 655.2 L17.6 655.1 L18.4 655.1 L19.1 655.1 L19.9 655.1 L20.6 655.1 L21.4 655.1 L22.1 655.1 L22.9 655.1 L23.6 655.1 L24.4 655.1 L25.1 655 L25.9 655 L26.6 655 L27.4 655 L28.1 655 L28.9 655 L29.6 654.9 L30.4 654.9 L31.1 654.9 L31.9 654.9 L32.6 654.8 L33.4 654.8 L34.1 654.8 L34.9 654.7 L35.6 654.7 L36.4 654.6 L37.1 654.5 L37.9 654.5 L38.6 654.4 L39.4 654.3 L40.1 654.2 L40.9 654.1 L41.6 654 L42.4 653.8 L43.1 653.7 L43.9 653.5 L44.6 653.3 L45.4 653.1 L46.1 652.9 L46.9 652.6 L47.6 652.3 L48.4 652 L49.1 651.5 L49.9 651 L50.6 650.3 L51.4 649.3 L52.1 648.2 L52.9 646.8 L53.6 645.2 L54.4 643.3 L55.1 641.1 L55.9 638.6 L56.6 635.8 L57.4 633 L58.1 630.1 L58.9 627.5 L59.6 625.3 L60.4 623.6 L61.1 622.7 L61.9 622.7 L62.6 623.6 L63.4 625.4 L64.1 628.1 L64.8 631.3 L65.6 634.7 L66.3 638.1 L67.1 641.3 L67.8 644.2 L68.6 646.6 L69.3 648.5 L70.1 650 L70.8 651.2 L71.6 652 L72.3 652.6 L73.1 653.1 L73.8 653.4 L74.6 653.7 L75.3 653.9 L76.1 654.1 L76.8 654.3 L77.6 654.4 L78.3 654.5 L79.1 654.6 L79.8 654.7 L80.6 654.8 L81.3 654.8 L82.1 654.9 L82.8 655 L83.6 655 L84.3 655 L85.1 655.1 L85.8 655.1 L86.6 655.1 L87.3 655.1 L130.1 655.2Z" fill="#fff"/>
<path d="M2.6 655.2 L17.6 655.1 L18.4 655.1 L19.1 655.1 L19.9 655.1 L20.6 655.1 L21.4 655.1 L22.1 655.1 L22.9 655.1 L23.6 655.1 L24.4 655.1 L25.1 655 L25.9 655 L26.6 655 L27.4 655 L28.1 655 L28.9 655 L29.6 654.9 L30.4 654.9 L31.1 654.9 L31.9 654.9 L32.6 654.8 L33.4 654.8 L34.1 654.8 L34.9 654.7 L35.6 654.7 L36.4 654.6 L37.1 654.5 L37.9 654.5 L38.6 654.4 L39.4 654.3 L40.1 654.2 L40.9 654.1 L41.6 654 L42.4 653.8 L43.1 653.7 L43.9 653.5 L44.6 653.3 L45.4 653.1 L46.1 652.9 L46.9 652.6 L47.6 652.3 L48.4 652 L49.1 651.5 L49.9 651 L50.6 650.3 L51.4 649.3 L52.1 648.2 L52.9 646.8 L53.6 645.2 L54.4 643.3 L55.1 641.1 L55.9 638.6 L56.6 635.8 L57.4 633 L58.1 630.1 L58.9 627.5 L59.6 625.3 L60.4 623.6 L61.1 622.7 L61.9 622.7 L62.6 623.6 L63.4 625.4 L64.1 628.1 L64.8 631.3 L65.6 634.7 L66.3 638.1 L67.1 641.3 L67.8 644.2 L68.6 646.6 L69.3 648.5 L70.1 650 L70.8 651.2 L71.6 652 L72.3 652.6 L73.1 653.1 L73.8 653.4 L74.6 653.7 L75.3 653.9 L76.1 654.1 L76.8 654.3 L77.6 654.4 L78.3 654.5 L79.1 654.6 L79.8 654.7 L80.6 654.8 L81.3 654.8 L82.1 654.9 L82.8 655 L83.6 655 L84.3 655 L85.1 655.1 L85.8 655.1 L86.6 655.1 L87.3 655.1 L130.1 655.2" fill="none" stroke="#000" stroke-width="1.6" stroke-linejoin="round"/>
<path d="M2.6 671.8 L17.2 671.7 L18 671.7 L18.7 671.7 L19.5 671.7 L20.2 671.7 L21 671.7 L21.7 671.7 L22.5 671.7 L23.2 671.7 L24 671.7 L24.7 671.6 L25.5 671.6 L26.2 671.6 L27 671.6 L27.7 671.6 L28.5 671.6 L29.2 671.5 L30 671.5 L30.7 671.5 L31.5 671.5 L32.2 671.4 L33 671.4 L33.7 671.4 L34.5 671.3 L35.2 671.3 L36 671.2 L36.7 671.1 L37.5 671.1 L38.2 671 L39 670.9 L39.7 670.8 L40.5 670.7 L41.2 670.6 L42 670.4 L42.7 670.3 L43.5 670.1 L44.2 669.9 L45 669.7 L45.7 669.5 L46.5 669.2 L47.2 668.9 L48 668.6 L48.7 668.1 L49.5 667.6 L50.2 666.9 L51 665.9 L51.7 664.8 L52.5 663.4 L53.2 661.8 L54 659.9 L54.7 657.7 L55.5 655.2 L56.2 652.4 L57 649.6 L57.7 646.7 L58.5 644.1 L59.2 641.9 L60 640.2 L60.7 639.3 L61.5 639.3 L62.2 640.2 L63 642 L63.7 644.7 L64.5 647.9 L65.2 651.3 L66 654.7 L66.7 657.9 L67.5 660.8 L68.2 663.2 L69 665.1 L69.7 666.6 L70.5 667.8 L71.2 668.6 L72 669.2 L72.7 669.7 L73.5 670 L74.2 670.3 L75 670.5 L75.7 670.7 L76.5 670.9 L77.2 671 L78 671.1 L78.7 671.2 L79.5 671.3 L80.2 671.4 L81 671.4 L81.7 671.5 L82.5 671.6 L83.2 671.6 L84 671.6 L84.7 671.7 L85.5 671.7 L86.2 671.7 L87 671.7 L130.1 671.8Z" fill="#fff"/>
<path d="M2.6 671.8 L17.2 671.7 L18 671.7 L18.7 671.7 L19.5 671.7 L20.2 671.7 L21 671.7 L21.7 671.7 L22.5 671.7 L23.2 671.7 L24 671.7 L24.7 671.6 L25.5 671.6 L26.2 671.6 L27 671.6 L27.7 671.6 L28.5 671.6 L29.2 671.5 L30 671.5 L30.7 671.5 L31.5 671.5 L32.2 671.4 L33 671.4 L33.7 671.4 L34.5 671.3 L35.2 671.3 L36 671.2 L36.7 671.1 L37.5 671.1 L38.2 671 L39 670.9 L39.7 670.8 L40.5 670.7 L41.2 670.6 L42 670.4 L42.7 670.3 L43.5 670.1 L44.2 669.9 L45 669.7 L45.7 669.5 L46.5 669.2 L47.2 668.9 L48 668.6 L48.7 668.1 L49.5 667.6 L50.2 666.9 L51 665.9 L51.7 664.8 L52.5 663.4 L53.2 661.8 L54 659.9 L54.7 657.7 L55.5 655.2 L56.2 652.4 L57 649.6 L57.7 646.7 L58.5 644.1 L59.2 641.9 L60 640.2 L60.7 639.3 L61.5 639.3 L62.2 640.2 L63 642 L63.7 644.7 L64.5 647.9 L65.2 651.3 L66 654.7 L66.7 657.9 L67.5 660.8 L68.2 663.2 L69 665.1 L69.7 666.6 L70.5 667.8 L71.2 668.6 L72 669.2 L72.7 669.7 L73.5 670 L74.2 670.3 L75 670.5 L75.7 670.7 L76.5 670.9 L77.2 671 L78 671.1 L78.7 671.2 L79.5 671.3 L80.2 671.4 L81 671.4 L81.7 671.5 L82.5 671.6 L83.2 671.6 L84 671.6 L84.7 671.7 L85.5 671.7 L86.2 671.7 L87 671.7 L130.1 671.8" fill="none" stroke="#000" stroke-width="1.6" stroke-linejoin="round"/>
<path d="M2.6 688.6 L16.7 688.5 L17.5 688.5 L18.2 688.5 L19 688.5 L19.7 688.5 L20.5 688.5 L21.2 688.5 L22 688.5 L22.7 688.5 L23.5 688.5 L24.2 688.4 L25 688.4 L25.7 688.4 L26.5 688.4 L27.2 688.4 L28 688.4 L28.7 688.3 L29.5 688.3 L30.2 688.3 L31 688.3 L31.7 688.2 L32.5 688.2 L33.2 688.2 L34 688.1 L34.7 688.1 L35.5 688 L36.2 687.9 L37 687.9 L37.7 687.8 L38.5 687.7 L39.2 687.6 L40 687.5 L40.7 687.4 L41.5 687.2 L42.2 687.1 L43 686.9 L43.7 686.7 L44.5 686.5 L45.2 686.3 L46 686 L46.7 685.7 L47.5 685.4 L48.2 684.9 L49 684.4 L49.7 683.7 L50.5 682.7 L51.2 681.6 L52 680.2 L52.7 678.6 L53.5 676.7 L54.2 674.5 L55 672 L55.7 669.2 L56.5 666.4 L57.2 663.5 L58 660.9 L58.7 658.7 L59.5 657 L60.2 656.1 L61 656.1 L61.7 657 L62.5 658.8 L63.2 661.5 L64 664.7 L64.7 668.1 L65.5 671.5 L66.2 674.7 L67 677.6 L67.7 680 L68.5 681.9 L69.2 683.4 L70 684.6 L70.7 685.4 L71.5 686 L72.2 686.5 L73 686.8 L73.7 687.1 L74.5 687.3 L75.2 687.5 L76 687.7 L76.7 687.8 L77.5 687.9 L78.2 688 L79 688.1 L79.7 688.2 L80.5 688.2 L81.2 688.3 L82 688.4 L82.7 688.4 L83.5 688.4 L84.2 688.5 L85 688.5 L85.7 688.5 L86.5 688.5 L130.1 688.6Z" fill="#fff"/>
<path d="M2.6 688.6 L16.7 688.5 L17.5 688.5 L18.2 688.5 L19 688.5 L19.7 688.5 L20.5 688.5 L21.2 688.5 L22 688.5 L22.7 688.5 L23.5 688.5 L24.2 688.4 L25 688.4 L25.7 688.4 L26.5 688.4 L27.2 688.4 L28 688.4 L28.7 688.3 L29.5 688.3 L30.2 688.3 L31 688.3 L31.7 688.2 L32.5 688.2 L33.2 688.2 L34 688.1 L34.7 688.1 L35.5 688 L36.2 687.9 L37 687.9 L37.7 687.8 L38.5 687.7 L39.2 687.6 L40 687.5 L40.7 687.4 L41.5 687.2 L42.2 687.1 L43 686.9 L43.7 686.7 L44.5 686.5 L45.2 686.3 L46 686 L46.7 685.7 L47.5 685.4 L48.2 684.9 L49 684.4 L49.7 683.7 L50.5 682.7 L51.2 681.6 L52 680.2 L52.7 678.6 L53.5 676.7 L54.2 674.5 L55 672 L55.7 669.2 L56.5 666.4 L57.2 663.5 L58 660.9 L58.7 658.7 L59.5 657 L60.2 656.1 L61 656.1 L61.7 657 L62.5 658.8 L63.2 661.5 L64 664.7 L64.7 668.1 L65.5 671.5 L66.2 674.7 L67 677.6 L67.7 680 L68.5 681.9 L69.2 683.4 L70 684.6 L70.7 685.4 L71.5 686 L72.2 686.5 L73 686.8 L73.7 687.1 L74.5 687.3 L75.2 687.5 L76 687.7 L76.7 687.8 L77.5 687.9 L78.2 688 L79 688.1 L79.7 688.2 L80.5 688.2 L81.2 688.3 L82 688.4 L82.7 688.4 L83.5 688.4 L84.2 688.5 L85 688.5 L85.7 688.5 L86.5 688.5 L130.1 688.6" fill="none" stroke="#000" stroke-width="1.6" stroke-linejoin="round"/>
<path d="M2.6 705.3 L16.3 705.2 L17 705.2 L17.8 705.2 L18.5 705.2 L19.3 705.2 L20 705.2 L20.8 705.2 L21.5 705.2 L22.3 705.2 L23 705.2 L23.8 705.1 L24.5 705.1 L25.3 705.1 L26 705.1 L26.8 705.1 L27.5 705.1 L28.3 705 L29 705 L29.8 705 L30.5 705 L31.3 704.9 L32 704.9 L32.8 704.9 L33.5 704.8 L34.3 704.8 L35 704.7 L35.8 704.6 L36.5 704.6 L37.3 704.5 L38 704.4 L38.8 704.3 L39.5 704.2 L40.3 704.1 L41 703.9 L41.8 703.8 L42.5 703.6 L43.3 703.4 L44 703.2 L44.8 703 L45.5 702.7 L46.3 702.4 L47 702.1 L47.8 701.6 L48.5 701.1 L49.3 700.4 L50 699.4 L50.8 698.3 L51.5 696.9 L52.3 695.3 L53 693.4 L53.8 691.2 L54.5 688.7 L55.3 685.9 L56 683.1 L56.8 680.2 L57.5 677.6 L58.3 675.4 L59 673.7 L59.8 672.8 L60.5 672.8 L61.3 673.7 L62 675.5 L62.8 678.2 L63.5 681.4 L64.3 684.8 L65 688.2 L65.8 691.4 L66.5 694.3 L67.3 696.7 L68 698.6 L68.8 700.1 L69.5 701.3 L70.3 702.1 L71 702.7 L71.8 703.2 L72.5 703.5 L73.3 703.8 L74 704 L74.8 704.2 L75.5 704.4 L76.3 704.5 L77 704.6 L77.8 704.7 L78.5 704.8 L79.3 704.9 L80 704.9 L80.8 705 L81.5 705.1 L82.3 705.1 L83 705.1 L83.8 705.2 L84.5 705.2 L85.3 705.2 L86 705.2 L130.1 705.3Z" fill="#fff"/>
<path d="M2.6 705.3 L16.3 705.2 L17 705.2 L17.8 705.2 L18.5 705.2 L19.3 705.2 L20 705.2 L20.8 705.2 L21.5 705.2 L22.3 705.2 L23 705.2 L23.8 705.1 L24.5 705.1 L25.3 705.1 L26 705.1 L26.8 705.1 L27.5 705.1 L28.3 705 L29 705 L29.8 705 L30.5 705 L31.3 704.9 L32 704.9 L32.8 704.9 L33.5 704.8 L34.3 704.8 L35 704.7 L35.8 704.6 L36.5 704.6 L37.3 704.5 L38 704.4 L38.8 704.3 L39.5 704.2 L40.3 704.1 L41 703.9 L41.8 703.8 L42.5 703.6 L43.3 703.4 L44 703.2 L44.8 703 L45.5 702.7 L46.3 702.4 L47 702.1 L47.8 701.6 L48.5 701.1 L49.3 700.4 L50 699.4 L50.8 698.3 L51.5 696.9 L52.3 695.3 L53 693.4 L53.8 691.2 L54.5 688.7 L55.3 685.9 L56 683.1 L56.8 680.2 L57.5 677.6 L58.3 675.4 L59 673.7 L59.8 672.8 L60.5 672.8 L61.3 673.7 L62 675.5 L62.8 678.2 L63.5 681.4 L64.3 684.8 L65 688.2 L65.8 691.4 L66.5 694.3 L67.3 696.7 L68 698.6 L68.8 700.1 L69.5 701.3 L70.3 702.1 L71 702.7 L71.8 703.2 L72.5 703.5 L73.3 703.8 L74 704 L74.8 704.2 L75.5 704.4 L76.3 704.5 L77 704.6 L77.8 704.7 L78.5 704.8 L79.3 704.9 L80 704.9 L80.8 705 L81.5 705.1 L82.3 705.1 L83 705.1 L83.8 705.2 L84.5 705.2 L85.3 705.2 L86 705.2 L130.1 705.3" fill="none" stroke="#000" stroke-width="1.6" stroke-linejoin="round"/>
<line x1="2.6" y1="566.5" x2="2.6" y2="709" stroke="#222" stroke-width="1.5"/>
<line x1="130.1" y1="566.5" x2="130.1" y2="709" stroke="#222" stroke-width="1.3"/>
<line x1="1.9" y1="567.1" x2="130.7" y2="567.1" stroke="#222" stroke-width="1.3"/>
<line x1="2.6" y1="706.1" x2="130.1" y2="706.1" stroke="#222" stroke-width="1.0"/>
<line x1="2.6" y1="705.6" x2="2.6" y2="709.2" stroke="#111" stroke-width="1.2"/>
<line x1="12.2" y1="705.6" x2="12.2" y2="707.3" stroke="#333" stroke-width="0.8"/>
<line x1="17.8" y1="705.6" x2="17.8" y2="707.3" stroke="#333" stroke-width="0.8"/>
<line x1="21.8" y1="705.6" x2="21.8" y2="707.3" stroke="#333" stroke-width="0.8"/>
<line x1="24.9" y1="705.6" x2="24.9" y2="707.3" stroke="#333" stroke-width="0.8"/>
<line x1="27.4" y1="705.6" x2="27.4" y2="707.3" stroke="#333" stroke-width="0.8"/>
<line x1="29.6" y1="705.6" x2="29.6" y2="707.3" stroke="#333" stroke-width="0.8"/>
<line x1="31.4" y1="705.6" x2="31.4" y2="707.3" stroke="#333" stroke-width="0.8"/>
<line x1="33" y1="705.6" x2="33" y2="707.3" stroke="#333" stroke-width="0.8"/>
<line x1="34.5" y1="705.6" x2="34.5" y2="709.2" stroke="#111" stroke-width="1.2"/>
<line x1="44.1" y1="705.6" x2="44.1" y2="707.3" stroke="#333" stroke-width="0.8"/>
<line x1="49.7" y1="705.6" x2="49.7" y2="707.3" stroke="#333" stroke-width="0.8"/>
<line x1="53.7" y1="705.6" x2="53.7" y2="707.3" stroke="#333" stroke-width="0.8"/>
<line x1="56.8" y1="705.6" x2="56.8" y2="707.3" stroke="#333" stroke-width="0.8"/>
<line x1="59.3" y1="705.6" x2="59.3" y2="707.3" stroke="#333" stroke-width="0.8"/>
<line x1="61.5" y1="705.6" x2="61.5" y2="707.3" stroke="#333" stroke-width="0.8"/>
<line x1="63.3" y1="705.6" x2="63.3" y2="707.3" stroke="#333" stroke-width="0.8"/>
<line x1="64.9" y1="705.6" x2="64.9" y2="707.3" stroke="#333" stroke-width="0.8"/>
<line x1="66.4" y1="705.6" x2="66.4" y2="709.2" stroke="#111" stroke-width="1.2"/>
<line x1="76" y1="705.6" x2="76" y2="707.3" stroke="#333" stroke-width="0.8"/>
<line x1="81.6" y1="705.6" x2="81.6" y2="707.3" stroke="#333" stroke-width="0.8"/>
<line x1="85.6" y1="705.6" x2="85.6" y2="707.3" stroke="#333" stroke-width="0.8"/>
<line x1="88.7" y1="705.6" x2="88.7" y2="707.3" stroke="#333" stroke-width="0.8"/>
<line x1="91.2" y1="705.6" x2="91.2" y2="707.3" stroke="#333" stroke-width="0.8"/>
<line x1="93.4" y1="705.6" x2="93.4" y2="707.3" stroke="#333" stroke-width="0.8"/>
<line x1="95.2" y1="705.6" x2="95.2" y2="707.3" stroke="#333" stroke-width="0.8"/>
<line x1="96.8" y1="705.6" x2="96.8" y2="707.3" stroke="#333" stroke-width="0.8"/>
<line x1="98.3" y1="705.6" x2="98.3" y2="709.2" stroke="#111" stroke-width="1.2"/>
<line x1="107.9" y1="705.6" x2="107.9" y2="707.3" stroke="#333" stroke-width="0.8"/>
<line x1="113.5" y1="705.6" x2="113.5" y2="707.3" stroke="#333" stroke-width="0.8"/>
<line x1="117.5" y1="705.6" x2="117.5" y2="707.3" stroke="#333" stroke-width="0.8"/>
<line x1="120.6" y1="705.6" x2="120.6" y2="707.3" stroke="#333" stroke-width="0.8"/>
<line x1="123.1" y1="705.6" x2="123.1" y2="707.3" stroke="#333" stroke-width="0.8"/>
<line x1="125.3" y1="705.6" x2="125.3" y2="707.3" stroke="#333" stroke-width="0.8"/>
<line x1="127.1" y1="705.6" x2="127.1" y2="707.3" stroke="#333" stroke-width="0.8"/>
<line x1="128.7" y1="705.6" x2="128.7" y2="707.3" stroke="#333" stroke-width="0.8"/>
<line x1="130.2" y1="705.6" x2="130.2" y2="709.2" stroke="#111" stroke-width="1.2"/>
<path d="M153 605.4 L153 604.9 L153.8 604.8 L154.5 604.7 L155.2 604.7 L156 604.6 L156.8 604.5 L157.5 604.3 L158.2 604.1 L159 603.9 L159.8 603.7 L160.5 603.4 L161.2 603.1 L162 602.6 L162.8 602 L163.5 601.1 L164.2 599.9 L165 598.2 L165.8 596 L166.5 593.1 L167.2 589.5 L168 585.4 L168.8 580.9 L169.5 576.6 L170.2 572.8 L171 570 L171.8 568.7 L172.5 569 L173.2 570.8 L174 574 L174.8 578 L175.5 582.4 L176.2 586.8 L177 590.8 L177.8 594.1 L178.5 596.8 L179.2 598.9 L180 600.4 L180.8 601.4 L181.5 602.2 L182.2 602.8 L183 603.2 L183.8 603.5 L184.5 603.8 L185.2 604 L186 604.2 L186.8 604.4 L187.5 604.5 L188.2 604.6 L189 604.7 L189.8 604.8 L190.5 604.8 L191.2 604.9 L192 604.9 L192 605.4Z" fill="#a9a9a9"/>
<line x1="150.3" y1="605" x2="278.2" y2="605" stroke="#a6a6a6" stroke-width="1.3"/>
<path d="M190 621.3 L190 621.1 L190.8 621.1 L191.5 621 L192.2 621 L193 620.9 L193.8 620.9 L194.5 620.8 L195.2 620.7 L196 620.5 L196.8 620.4 L197.5 620.2 L198.2 620 L199 619.7 L199.8 619.2 L200.5 618.6 L201.2 617.7 L202 616.4 L202.8 614.7 L203.5 612.4 L204.2 609.6 L205 606.3 L205.8 602.6 L206.5 598.7 L207.2 595 L208 591.8 L208.8 589.6 L209.5 588.4 L210.2 588.6 L211 590.3 L211.8 593.2 L212.5 597 L213.2 601.2 L214 605.4 L214.8 609.2 L215.5 612.3 L216.2 614.8 L217 616.6 L217.8 618 L218.5 618.9 L219.2 619.5 L220 619.9 L220.8 620.2 L221.5 620.4 L222.2 620.5 L223 620.7 L223.8 620.8 L224.5 620.9 L225.2 620.9 L226 621 L226.8 621.1 L227.5 621.1 L228.2 621.2 L229 621.2 L229.8 621.2 L230.5 621.2 L231.2 621.3 L232 621.3 L232 621.3Z" fill="#000" stroke="#000" stroke-width="0.8"/>
<line x1="150.3" y1="621.3" x2="278.2" y2="621.3" stroke="#000" stroke-width="1.6"/>
<path d="M150.3 638 L160 637.6 L167 636.6 L171 634.5 L173.5 631 L175.5 626 L177 621.5 L178.2 618.2 L179 617 L179.6 618.6 L180.2 617.6 L181 619.5 L182 622 L183.2 624.8 L184.5 626 L186 625.4 L187.5 626.2 L189 625 L190.5 625.6 L192 624.4 L193.5 624.6 L195 623 L196.6 622 L198 620.6 L199.5 619.8 L200.8 617 L201.8 614.5 L203.2 610.2 L204.6 606.6 L205.6 604.8 L206.8 604 L208 606 L209 609 L210.4 615.4 L211.7 621.6 L212.6 627.8 L213.6 631.2 L214.6 633.4 L216 635.4 L217.6 636.8 L220 637.8 L223 638.2 L278.2 638.2 L278.2 638.4 L150.3 638.4Z" fill="#fff"/>
<path d="M150.3 638 L160 637.6 L167 636.6 L171 634.5 L173.5 631 L175.5 626 L177 621.5 L178.2 618.2 L179 617 L179.6 618.6 L180.2 617.6 L181 619.5 L182 622 L183.2 624.8 L184.5 626 L186 625.4 L187.5 626.2 L189 625 L190.5 625.6 L192 624.4 L193.5 624.6 L195 623 L196.6 622 L198 620.6 L199.5 619.8 L200.8 617 L201.8 614.5 L203.2 610.2 L204.6 606.6 L205.6 604.8 L206.8 604 L208 606 L209 609 L210.4 615.4 L211.7 621.6 L212.6 627.8 L213.6 631.2 L214.6 633.4 L216 635.4 L217.6 636.8 L220 637.8 L223 638.2 L278.2 638.2" fill="none" stroke="#000" stroke-width="1.6" stroke-linejoin="round"/>
<path d="M150.3 655 L160 654.4 L166 653 L170 650.6 L172.6 646.5 L174.4 640 L175.8 632.5 L177 625 L178 620 L179 617.6 L180 619.4 L181 623.5 L182.2 628.6 L183.4 633 L184.8 636.6 L186.4 638.4 L188 639.6 L189.8 640.6 L191.2 640.2 L192.6 641.6 L194 641 L195.5 642.2 L197 641.4 L198.5 642 L200 641 L201.6 641.6 L203 640.8 L204.6 641.8 L206 643 L207.4 645.6 L208.6 648 L209.8 650.2 L211.4 652.2 L213 653.6 L215 654.6 L218 655.2 L278.2 655.2 L278.2 655.4 L150.3 655.4Z" fill="#fff"/>
<path d="M150.3 655 L160 654.4 L166 653 L170 650.6 L172.6 646.5 L174.4 640 L175.8 632.5 L177 625 L178 620 L179 617.6 L180 619.4 L181 623.5 L182.2 628.6 L183.4 633 L184.8 636.6 L186.4 638.4 L188 639.6 L189.8 640.6 L191.2 640.2 L192.6 641.6 L194 641 L195.5 642.2 L197 641.4 L198.5 642 L200 641 L201.6 641.6 L203 640.8 L204.6 641.8 L206 643 L207.4 645.6 L208.6 648 L209.8 650.2 L211.4 652.2 L213 653.6 L215 654.6 L218 655.2 L278.2 655.2" fill="none" stroke="#000" stroke-width="1.6" stroke-linejoin="round"/>
<path d="M150.3 671.8 L149.9 671.8 L150.7 671.8 L151.4 671.7 L152.2 671.7 L152.9 671.7 L153.7 671.7 L154.4 671.6 L155.2 671.6 L155.9 671.5 L156.7 671.5 L157.4 671.4 L158.2 671.3 L158.9 671.2 L159.7 671.1 L160.4 670.9 L161.2 670.7 L161.9 670.5 L162.7 670.3 L163.4 670.1 L164.2 669.8 L164.9 669.5 L165.7 669.1 L166.4 668.8 L167.2 668.3 L167.9 667.8 L168.7 667.1 L169.4 666.3 L170.2 665.3 L170.9 663.9 L171.7 662.1 L172.4 659.8 L173.2 657 L173.9 653.7 L174.7 650 L175.4 646.1 L176.2 642.4 L176.9 639.1 L177.7 636.5 L178.4 635 L179.2 634.8 L179.9 636.1 L180.7 638.6 L181.4 642.1 L182.2 646.2 L182.9 650.2 L183.7 654 L184.4 657.2 L185.2 659.9 L185.9 661.9 L186.7 663.5 L187.4 664.7 L188.2 665.5 L188.9 666.2 L189.7 666.9 L190.4 667.4 L191.2 667.9 L191.9 668.4 L192.7 668.8 L193.4 669.1 L194.2 669.4 L194.9 669.7 L195.7 670 L196.4 670.2 L197.2 670.4 L197.9 670.6 L198.7 670.7 L199.4 670.8 L200.2 670.9 L200.9 671 L201.7 671.1 L202.4 671.2 L203.2 671.2 L203.9 671.3 L204.7 671.3 L205.4 671.4 L206.2 671.4 L206.9 671.4 L207.7 671.5 L208.4 671.5 L209.2 671.5 L209.9 671.5 L210.7 671.5 L211.4 671.6 L212.2 671.6 L212.9 671.6 L213.7 671.6 L214.4 671.6 L215.2 671.6 L215.9 671.6 L216.7 671.6 L217.4 671.7 L218.2 671.7 L218.9 671.7 L278.2 671.8Z" fill="#fff"/>
<path d="M150.3 671.8 L149.9 671.8 L150.7 671.8 L151.4 671.7 L152.2 671.7 L152.9 671.7 L153.7 671.7 L154.4 671.6 L155.2 671.6 L155.9 671.5 L156.7 671.5 L157.4 671.4 L158.2 671.3 L158.9 671.2 L159.7 671.1 L160.4 670.9 L161.2 670.7 L161.9 670.5 L162.7 670.3 L163.4 670.1 L164.2 669.8 L164.9 669.5 L165.7 669.1 L166.4 668.8 L167.2 668.3 L167.9 667.8 L168.7 667.1 L169.4 666.3 L170.2 665.3 L170.9 663.9 L171.7 662.1 L172.4 659.8 L173.2 657 L173.9 653.7 L174.7 650 L175.4 646.1 L176.2 642.4 L176.9 639.1 L177.7 636.5 L178.4 635 L179.2 634.8 L179.9 636.1 L180.7 638.6 L181.4 642.1 L182.2 646.2 L182.9 650.2 L183.7 654 L184.4 657.2 L185.2 659.9 L185.9 661.9 L186.7 663.5 L187.4 664.7 L188.2 665.5 L188.9 666.2 L189.7 666.9 L190.4 667.4 L191.2 667.9 L191.9 668.4 L192.7 668.8 L193.4 669.1 L194.2 669.4 L194.9 669.7 L195.7 670 L196.4 670.2 L197.2 670.4 L197.9 670.6 L198.7 670.7 L199.4 670.8 L200.2 670.9 L200.9 671 L201.7 671.1 L202.4 671.2 L203.2 671.2 L203.9 671.3 L204.7 671.3 L205.4 671.4 L206.2 671.4 L206.9 671.4 L207.7 671.5 L208.4 671.5 L209.2 671.5 L209.9 671.5 L210.7 671.5 L211.4 671.6 L212.2 671.6 L212.9 671.6 L213.7 671.6 L214.4 671.6 L215.2 671.6 L215.9 671.6 L216.7 671.6 L217.4 671.7 L218.2 671.7 L218.9 671.7 L278.2 671.8" fill="none" stroke="#000" stroke-width="1.6" stroke-linejoin="round"/>
<path d="M150.3 688.6 L150.3 688.6 L151.1 688.6 L151.8 688.5 L152.6 688.5 L153.3 688.5 L154.1 688.5 L154.8 688.4 L155.6 688.4 L156.3 688.3 L157.1 688.3 L157.8 688.2 L158.6 688.1 L159.3 688 L160.1 687.9 L160.8 687.7 L161.6 687.5 L162.3 687.3 L163.1 687.1 L163.8 686.9 L164.6 686.6 L165.3 686.3 L166.1 685.9 L166.8 685.6 L167.6 685.1 L168.3 684.6 L169.1 683.9 L169.8 683.1 L170.6 682.1 L171.3 680.7 L172.1 678.9 L172.8 676.6 L173.6 673.8 L174.3 670.5 L175.1 666.8 L175.8 662.9 L176.6 659.2 L177.3 655.9 L178.1 653.3 L178.8 651.9 L179.6 651.7 L180.3 652.9 L181.1 655.5 L181.8 659.1 L182.6 663.1 L183.3 667.3 L184.1 671.2 L184.8 674.5 L185.6 677.2 L186.3 679.4 L187.1 681 L187.8 682.2 L188.6 683.1 L189.3 683.8 L190.1 684.4 L190.8 684.9 L191.6 685.4 L192.3 685.8 L193.1 686.2 L193.8 686.5 L194.6 686.8 L195.3 687 L196.1 687.2 L196.8 687.4 L197.6 687.6 L198.3 687.7 L199.1 687.9 L199.8 688 L200.6 688 L201.3 688.1 L202.1 688.2 L202.8 688.2 L203.6 688.3 L204.3 688.3 L205.1 688.3 L205.8 688.4 L206.6 688.4 L207.3 688.4 L208.1 688.4 L208.8 688.4 L209.6 688.4 L210.3 688.5 L211.1 688.5 L211.8 688.5 L212.6 688.5 L213.3 688.5 L214.1 688.5 L214.8 688.5 L215.6 688.5 L216.3 688.5 L217.1 688.5 L217.8 688.5 L218.6 688.5 L219.3 688.5 L278.2 688.6Z" fill="#fff"/>
<path d="M150.3 688.6 L150.3 688.6 L151.1 688.6 L151.8 688.5 L152.6 688.5 L153.3 688.5 L154.1 688.5 L154.8 688.4 L155.6 688.4 L156.3 688.3 L157.1 688.3 L157.8 688.2 L158.6 688.1 L159.3 688 L160.1 687.9 L160.8 687.7 L161.6 687.5 L162.3 687.3 L163.1 687.1 L163.8 686.9 L164.6 686.6 L165.3 686.3 L166.1 685.9 L166.8 685.6 L167.6 685.1 L168.3 684.6 L169.1 683.9 L169.8 683.1 L170.6 682.1 L171.3 680.7 L172.1 678.9 L172.8 676.6 L173.6 673.8 L174.3 670.5 L175.1 666.8 L175.8 662.9 L176.6 659.2 L177.3 655.9 L178.1 653.3 L178.8 651.9 L179.6 651.7 L180.3 652.9 L181.1 655.5 L181.8 659.1 L182.6 663.1 L183.3 667.3 L184.1 671.2 L184.8 674.5 L185.6 677.2 L186.3 679.4 L187.1 681 L187.8 682.2 L188.6 683.1 L189.3 683.8 L190.1 684.4 L190.8 684.9 L191.6 685.4 L192.3 685.8 L193.1 686.2 L193.8 686.5 L194.6 686.8 L195.3 687 L196.1 687.2 L196.8 687.4 L197.6 687.6 L198.3 687.7 L199.1 687.9 L199.8 688 L200.6 688 L201.3 688.1 L202.1 688.2 L202.8 688.2 L203.6 688.3 L204.3 688.3 L205.1 688.3 L205.8 688.4 L206.6 688.4 L207.3 688.4 L208.1 688.4 L208.8 688.4 L209.6 688.4 L210.3 688.5 L211.1 688.5 L211.8 688.5 L212.6 688.5 L213.3 688.5 L214.1 688.5 L214.8 688.5 L215.6 688.5 L216.3 688.5 L217.1 688.5 L217.8 688.5 L218.6 688.5 L219.3 688.5 L278.2 688.6" fill="none" stroke="#000" stroke-width="1.6" stroke-linejoin="round"/>
<path d="M150.3 705.3 L151.1 705.3 L151.8 705.3 L152.6 705.2 L153.3 705.2 L154.1 705.2 L154.8 705.2 L155.6 705.1 L156.3 705.1 L157.1 705 L157.8 705 L158.6 704.9 L159.3 704.8 L160.1 704.7 L160.8 704.6 L161.6 704.4 L162.3 704.2 L163.1 704 L163.8 703.8 L164.6 703.6 L165.3 703.3 L166.1 703 L166.8 702.6 L167.6 702.2 L168.3 701.8 L169.1 701.2 L169.8 700.5 L170.6 699.6 L171.3 698.5 L172.1 697 L172.8 695.1 L173.6 692.7 L174.3 689.9 L175.1 686.6 L175.8 682.9 L176.6 679.2 L177.3 675.5 L178.1 672.4 L178.8 669.9 L179.6 668.6 L180.3 668.4 L181.1 669.6 L181.8 672.1 L182.6 675.5 L183.3 679.5 L184.1 683.7 L184.8 687.6 L185.6 691.1 L186.3 694 L187.1 696.3 L187.8 698.1 L188.6 699.4 L189.3 700.4 L190.1 701.2 L190.8 701.8 L191.6 702.3 L192.3 702.7 L193.1 703.1 L193.8 703.4 L194.6 703.7 L195.3 704 L196.1 704.2 L196.8 704.4 L197.6 704.6 L198.3 704.7 L199.1 704.8 L199.8 704.9 L200.6 705 L201.3 705.1 L202.1 705.1 L202.8 705.2 L203.6 705.2 L204.3 705.2 L205.1 705.2 L205.8 705.3 L206.6 705.3 L207.3 705.3 L208.1 705.3 L208.8 705.3 L209.6 705.3 L210.3 705.3 L211.1 705.3 L211.8 705.3 L212.6 705.3 L213.3 705.3 L214.1 705.3 L214.8 705.3 L215.6 705.3 L216.3 705.3 L217.1 705.3 L217.8 705.3 L218.6 705.3 L219.3 705.3 L220.1 705.3 L278.2 705.3Z" fill="#fff"/>
<path d="M150.3 705.3 L151.1 705.3 L151.8 705.3 L152.6 705.2 L153.3 705.2 L154.1 705.2 L154.8 705.2 L155.6 705.1 L156.3 705.1 L157.1 705 L157.8 705 L158.6 704.9 L159.3 704.8 L160.1 704.7 L160.8 704.6 L161.6 704.4 L162.3 704.2 L163.1 704 L163.8 703.8 L164.6 703.6 L165.3 703.3 L166.1 703 L166.8 702.6 L167.6 702.2 L168.3 701.8 L169.1 701.2 L169.8 700.5 L170.6 699.6 L171.3 698.5 L172.1 697 L172.8 695.1 L173.6 692.7 L174.3 689.9 L175.1 686.6 L175.8 682.9 L176.6 679.2 L177.3 675.5 L178.1 672.4 L178.8 669.9 L179.6 668.6 L180.3 668.4 L181.1 669.6 L181.8 672.1 L182.6 675.5 L183.3 679.5 L184.1 683.7 L184.8 687.6 L185.6 691.1 L186.3 694 L187.1 696.3 L187.8 698.1 L188.6 699.4 L189.3 700.4 L190.1 701.2 L190.8 701.8 L191.6 702.3 L192.3 702.7 L193.1 703.1 L193.8 703.4 L194.6 703.7 L195.3 704 L196.1 704.2 L196.8 704.4 L197.6 704.6 L198.3 704.7 L199.1 704.8 L199.8 704.9 L200.6 705 L201.3 705.1 L202.1 705.1 L202.8 705.2 L203.6 705.2 L204.3 705.2 L205.1 705.2 L205.8 705.3 L206.6 705.3 L207.3 705.3 L208.1 705.3 L208.8 705.3 L209.6 705.3 L210.3 705.3 L211.1 705.3 L211.8 705.3 L212.6 705.3 L213.3 705.3 L214.1 705.3 L214.8 705.3 L215.6 705.3 L216.3 705.3 L217.1 705.3 L217.8 705.3 L218.6 705.3 L219.3 705.3 L220.1 705.3 L278.2 705.3" fill="none" stroke="#000" stroke-width="1.6" stroke-linejoin="round"/>
<line x1="150.3" y1="566.5" x2="150.3" y2="709" stroke="#222" stroke-width="1.5"/>
<line x1="278.2" y1="566.5" x2="278.2" y2="709.4" stroke="#222" stroke-width="1.3"/>
<line x1="149.6" y1="567.1" x2="278.8" y2="567.1" stroke="#222" stroke-width="1.3"/>
<line x1="150.3" y1="706.1" x2="278.2" y2="706.1" stroke="#222" stroke-width="1.0"/>
<line x1="150.3" y1="705.6" x2="150.3" y2="709.2" stroke="#111" stroke-width="1.2"/>
<line x1="159.9" y1="705.6" x2="159.9" y2="707.3" stroke="#333" stroke-width="0.8"/>
<line x1="165.5" y1="705.6" x2="165.5" y2="707.3" stroke="#333" stroke-width="0.8"/>
<line x1="169.5" y1="705.6" x2="169.5" y2="707.3" stroke="#333" stroke-width="0.8"/>
<line x1="172.6" y1="705.6" x2="172.6" y2="707.3" stroke="#333" stroke-width="0.8"/>
<line x1="175.1" y1="705.6" x2="175.1" y2="707.3" stroke="#333" stroke-width="0.8"/>
<line x1="177.3" y1="705.6" x2="177.3" y2="707.3" stroke="#333" stroke-width="0.8"/>
<line x1="179.1" y1="705.6" x2="179.1" y2="707.3" stroke="#333" stroke-width="0.8"/>
<line x1="180.7" y1="705.6" x2="180.7" y2="707.3" stroke="#333" stroke-width="0.8"/>
<line x1="182.2" y1="705.6" x2="182.2" y2="709.2" stroke="#111" stroke-width="1.2"/>
<line x1="191.8" y1="705.6" x2="191.8" y2="707.3" stroke="#333" stroke-width="0.8"/>
<line x1="197.4" y1="705.6" x2="197.4" y2="707.3" stroke="#333" stroke-width="0.8"/>
<line x1="201.4" y1="705.6" x2="201.4" y2="707.3" stroke="#333" stroke-width="0.8"/>
<line x1="204.5" y1="705.6" x2="204.5" y2="707.3" stroke="#333" stroke-width="0.8"/>
<line x1="207" y1="705.6" x2="207" y2="707.3" stroke="#333" stroke-width="0.8"/>
<line x1="209.2" y1="705.6" x2="209.2" y2="707.3" stroke="#333" stroke-width="0.8"/>
<line x1="211" y1="705.6" x2="211" y2="707.3" stroke="#333" stroke-width="0.8"/>
<line x1="212.6" y1="705.6" x2="212.6" y2="707.3" stroke="#333" stroke-width="0.8"/>
<line x1="214.1" y1="705.6" x2="214.1" y2="709.2" stroke="#111" stroke-width="1.2"/>
<line x1="223.7" y1="705.6" x2="223.7" y2="707.3" stroke="#333" stroke-width="0.8"/>
<line x1="229.3" y1="705.6" x2="229.3" y2="707.3" stroke="#333" stroke-width="0.8"/>
<line x1="233.3" y1="705.6" x2="233.3" y2="707.3" stroke="#333" stroke-width="0.8"/>
<line x1="236.4" y1="705.6" x2="236.4" y2="707.3" stroke="#333" stroke-width="0.8"/>
<line x1="238.9" y1="705.6" x2="238.9" y2="707.3" stroke="#333" stroke-width="0.8"/>
<line x1="241.1" y1="705.6" x2="241.1" y2="707.3" stroke="#333" stroke-width="0.8"/>
<line x1="242.9" y1="705.6" x2="242.9" y2="707.3" stroke="#333" stroke-width="0.8"/>
<line x1="244.5" y1="705.6" x2="244.5" y2="707.3" stroke="#333" stroke-width="0.8"/>
<line x1="246" y1="705.6" x2="246" y2="709.2" stroke="#111" stroke-width="1.2"/>
<line x1="255.6" y1="705.6" x2="255.6" y2="707.3" stroke="#333" stroke-width="0.8"/>
<line x1="261.2" y1="705.6" x2="261.2" y2="707.3" stroke="#333" stroke-width="0.8"/>
<line x1="265.2" y1="705.6" x2="265.2" y2="707.3" stroke="#333" stroke-width="0.8"/>
<line x1="268.3" y1="705.6" x2="268.3" y2="707.3" stroke="#333" stroke-width="0.8"/>
<line x1="270.8" y1="705.6" x2="270.8" y2="707.3" stroke="#333" stroke-width="0.8"/>
<line x1="273" y1="705.6" x2="273" y2="707.3" stroke="#333" stroke-width="0.8"/>
<line x1="274.8" y1="705.6" x2="274.8" y2="707.3" stroke="#333" stroke-width="0.8"/>
<line x1="276.4" y1="705.6" x2="276.4" y2="707.3" stroke="#333" stroke-width="0.8"/>
<line x1="277.9" y1="705.6" x2="277.9" y2="709.2" stroke="#111" stroke-width="1.2"/>
<text x="274.6" y="601" font-size="11.8" text-anchor="end">Isotype</text>
<text x="274.6" y="617.8" font-size="11.8" text-anchor="end">Unstim</text>
<text x="274.6" y="634.6" font-size="11.8" text-anchor="end">0.5 h</text>
<text x="274.6" y="651.6" font-size="11.8" text-anchor="end">1 h</text>
<text x="274.6" y="668.8" font-size="11.8" text-anchor="end">2 h</text>
<text x="274.6" y="685.8" font-size="11.8" text-anchor="end">3 h</text>
<text x="274.6" y="702.8" font-size="11.8" text-anchor="end">4 h</text>
<line x1="105.6" y1="717.7" x2="171" y2="717.7" stroke="#000" stroke-width="2"/>
<path d="M169.4 713 L179.8 717.7 L169.4 722.4Z" fill="#000"/>
<text x="140" y="732.6" font-size="15.7" text-anchor="middle">CD62L</text>
</g>
<g id="panelE">
<text x="301.8" y="545.8" font-size="25">E</text>
<line x1="354" y1="562.4" x2="354" y2="629.2" stroke="#222" stroke-width="1.1"/>
<line x1="354" y1="640" x2="354" y2="707.5" stroke="#222" stroke-width="1.1"/>
<line x1="351.2" y1="631.8" x2="356.6" y2="627" stroke="#222" stroke-width="1.0"/>
<line x1="351.2" y1="642.4" x2="356.6" y2="637.6" stroke="#222" stroke-width="1.0"/>
<line x1="353.5" y1="707" x2="511.6" y2="707" stroke="#222" stroke-width="1.1"/>
<line x1="351" y1="575" x2="354" y2="575" stroke="#222" stroke-width="1.0"/>
<text x="347.6" y="578.5" font-size="10" text-anchor="end" letter-spacing="-0.25">45000</text>
<line x1="351" y1="600" x2="354" y2="600" stroke="#222" stroke-width="1.0"/>
<text x="347.6" y="603.5" font-size="10" text-anchor="end" letter-spacing="-0.25">40000</text>
<line x1="351" y1="625" x2="354" y2="625" stroke="#222" stroke-width="1.0"/>
<text x="347.6" y="628.5" font-size="10" text-anchor="end" letter-spacing="-0.25">35000</text>
<line x1="351" y1="646.7" x2="354" y2="646.7" stroke="#222" stroke-width="1.0"/>
<text x="347.6" y="650.2" font-size="10" text-anchor="end" letter-spacing="-0.25">500</text>
<line x1="351" y1="676.9" x2="354" y2="676.9" stroke="#222" stroke-width="1.0"/>
<text x="347.6" y="680.4" font-size="10" text-anchor="end" letter-spacing="-0.25">250</text>
<text x="347.6" y="710.5" font-size="10" text-anchor="end" letter-spacing="-0.25">0</text>
<text transform="translate(313.4 639.6) rotate(-90)" font-size="12" text-anchor="middle">IL-8 (pg/mL)</text>
<rect x="364.5" y="702.5" width="31.7" height="4.8" fill="#000"/>
<line x1="380.4" y1="702.5" x2="380.4" y2="701.2" stroke="#333" stroke-width="1"/>
<line x1="378" y1="701.2" x2="382.8" y2="701.2" stroke="#333" stroke-width="1"/>
<rect x="416.6" y="598.4" width="31.5" height="31.1" fill="#000"/>
<rect x="416.6" y="641.3" width="31.5" height="66" fill="#000"/>
<line x1="432.4" y1="598.4" x2="432.4" y2="574.4" stroke="#333" stroke-width="1.0"/>
<line x1="429.9" y1="574.6" x2="434.9" y2="574.6" stroke="#333" stroke-width="1.2"/>
<rect x="469.2" y="656" width="31.6" height="51.3" fill="#000"/>
<line x1="485" y1="656" x2="485" y2="649.8" stroke="#333" stroke-width="1.0"/>
<line x1="482.5" y1="650" x2="487.5" y2="650" stroke="#333" stroke-width="1.2"/>
<line x1="380.4" y1="707" x2="380.4" y2="709" stroke="#333" stroke-width="0.9"/>
<line x1="432.4" y1="707" x2="432.4" y2="709" stroke="#333" stroke-width="0.9"/>
<line x1="485" y1="707" x2="485" y2="709" stroke="#333" stroke-width="0.9"/>
<text x="379.9" y="721.8" font-size="11.5" text-anchor="middle">Unstim</text>
<text x="433.5" y="721.8" font-size="11.2" text-anchor="middle">BCG</text>
<text x="486.6" y="721.8" font-size="11.2" text-anchor="middle">LPS</text>
</g>
</svg>
</body>
</html>
